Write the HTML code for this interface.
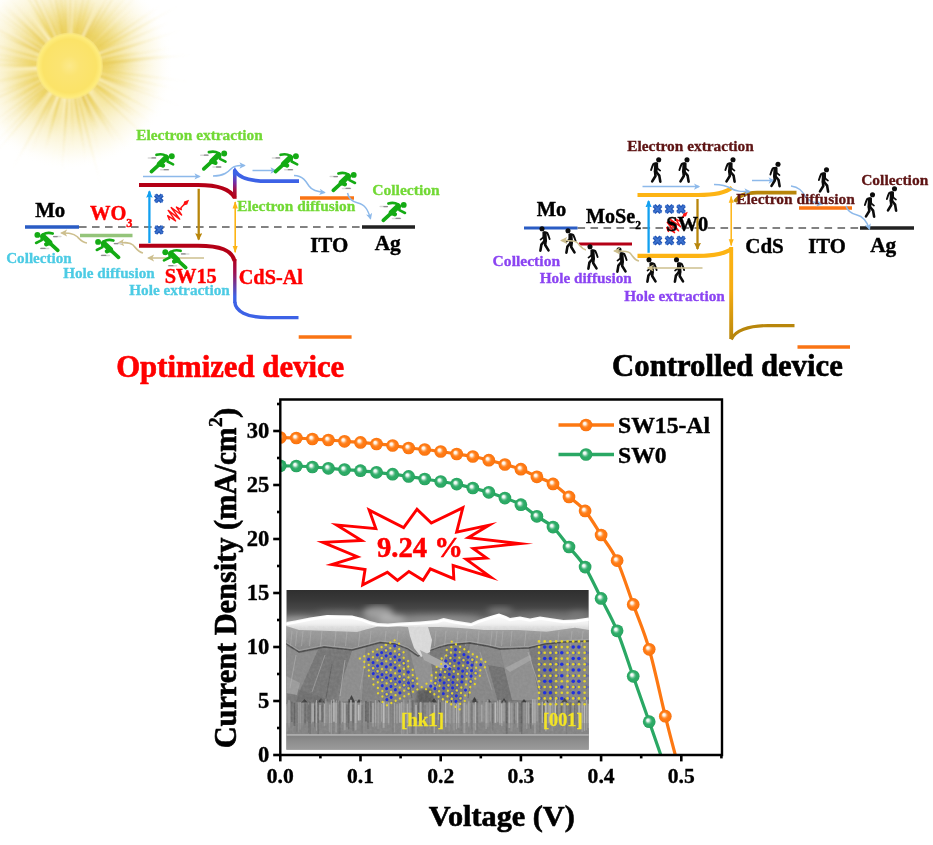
<!DOCTYPE html>
<html><head><meta charset="utf-8"><title>Graphical abstract</title>
<style>
html,body{margin:0;padding:0;background:#fff;}
svg{display:block}
text{font-family:"Liberation Serif",serif;font-weight:bold;white-space:pre}
</style></head><body>
<svg width="933" height="845" viewBox="0 0 933 845">
<defs>
<radialGradient id="sunDisc" cx="50%" cy="50%" r="50%">
 <stop offset="0" stop-color="#fce98a"/><stop offset="0.3" stop-color="#fbe472"/><stop offset="0.8" stop-color="#fbe368"/><stop offset="0.93" stop-color="#feec7c"/><stop offset="1" stop-color="#fbe98a" stop-opacity="0.5"/>
</radialGradient>
<radialGradient id="sunGlow" cx="50%" cy="50%" r="50%">
 <stop offset="0" stop-color="#f0d972" stop-opacity="1"/><stop offset="0.36" stop-color="#f0d972" stop-opacity="1"/><stop offset="0.5" stop-color="#f2de84" stop-opacity="0.78"/><stop offset="0.68" stop-color="#f6e7a2" stop-opacity="0.44"/><stop offset="0.86" stop-color="#f9eeb8" stop-opacity="0.16"/><stop offset="1" stop-color="#fff" stop-opacity="0"/>
</radialGradient>
<radialGradient id="rayFade" gradientUnits="userSpaceOnUse" cx="69.5" cy="66" r="128">
 <stop offset="0" stop-color="#fff" stop-opacity="1"/><stop offset="0.35" stop-color="#fff" stop-opacity="0.95"/><stop offset="0.65" stop-color="#fff" stop-opacity="0.5"/><stop offset="0.9" stop-color="#fff" stop-opacity="0.1"/><stop offset="1" stop-color="#fff" stop-opacity="0"/>
</radialGradient>
<mask id="rayMask" maskUnits="userSpaceOnUse" x="-60" y="-60" width="300" height="300"><rect x="-60" y="-60" width="300" height="300" fill="url(#rayFade)"/></mask>
<filter id="blur1" x="-20%" y="-20%" width="140%" height="140%"><feGaussianBlur stdDeviation="0.8"/></filter>
<filter id="blurS" x="-30%" y="-200%" width="160%" height="500%"><feGaussianBlur stdDeviation="0.35"/></filter>
<filter id="blur2" x="-20%" y="-20%" width="140%" height="140%"><feGaussianBlur stdDeviation="2"/></filter>
<linearGradient id="gRB_up" gradientUnits="userSpaceOnUse" x1="0" y1="198" x2="0" y2="174"><stop offset="0" stop-color="#b40016"/><stop offset="0.3" stop-color="#a8103c"/><stop offset="0.62" stop-color="#7a2aa0"/><stop offset="1" stop-color="#3d62e6"/></linearGradient>
<linearGradient id="gRB_dn" gradientUnits="userSpaceOnUse" x1="0" y1="258" x2="0" y2="306"><stop offset="0" stop-color="#b40016"/><stop offset="0.3" stop-color="#a01050"/><stop offset="0.8" stop-color="#3d62e6"/><stop offset="1" stop-color="#3d62e6"/></linearGradient>
<linearGradient id="gYG" gradientUnits="userSpaceOnUse" x1="0" y1="248" x2="0" y2="340"><stop offset="0" stop-color="#fdb414"/><stop offset="0.45" stop-color="#f5ac12"/><stop offset="1" stop-color="#b8860b"/></linearGradient>
<radialGradient id="ballO" cx="50%" cy="50%" r="50%" fx="37%" fy="36%"><stop offset="0" stop-color="#ffffff"/><stop offset="0.2" stop-color="#fff0e0"/><stop offset="0.42" stop-color="#ff9a48"/><stop offset="0.58" stop-color="#ff7c16"/><stop offset="0.9" stop-color="#fd7610"/><stop offset="1" stop-color="#f06c08"/></radialGradient>
<radialGradient id="ballG" cx="50%" cy="50%" r="50%" fx="37%" fy="36%"><stop offset="0" stop-color="#ffffff"/><stop offset="0.2" stop-color="#e6f6ee"/><stop offset="0.42" stop-color="#62c08e"/><stop offset="0.58" stop-color="#2eac68"/><stop offset="0.9" stop-color="#2aa863"/><stop offset="1" stop-color="#1f9a56"/></radialGradient>

<marker id="mLB" viewBox="0 0 10 10" refX="8" refY="5" markerWidth="4.2" markerHeight="4.2" orient="auto-start-reverse" markerUnits="strokeWidth"><path d="M0,0 L10,5 L0,10 L2.5,5 z" fill="#8db9ea"/></marker>
<marker id="mTan" viewBox="0 0 10 10" refX="8" refY="5" markerWidth="4.4" markerHeight="4.4" orient="auto-start-reverse" markerUnits="strokeWidth"><path d="M0,0 L10,5 L0,10 L2.5,5 z" fill="#cdbf8e"/></marker>
<marker id="mBlue" viewBox="0 0 10 10" refX="8.5" refY="5" markerWidth="3.2" markerHeight="3.2" orient="auto-start-reverse" markerUnits="strokeWidth"><path d="M0,0.6 L10,5 L0,9.4 L1.5,5 z" fill="#12a0f0"/></marker>
<marker id="mGold" viewBox="0 0 10 10" refX="8.5" refY="5" markerWidth="3.2" markerHeight="3.2" orient="auto-start-reverse" markerUnits="strokeWidth"><path d="M0,0.2 L10,5 L0,9.8 L1.5,5 z" fill="#b8860b"/></marker>
<marker id="mYel" viewBox="0 0 10 10" refX="9" refY="5" markerWidth="4.6" markerHeight="4.6" orient="auto-start-reverse" markerUnits="strokeWidth"><path d="M0,1.4 L10,5 L0,8.6 z" fill="#fdb414"/></marker>
<marker id="mRed" viewBox="0 0 10 10" refX="8" refY="5" markerWidth="5" markerHeight="5" orient="auto-start-reverse" markerUnits="strokeWidth"><path d="M0,0 L10,5 L0,10 L2.5,5 z" fill="#ff1010"/></marker>
<symbol id="runner" viewBox="0 0 25 21" overflow="visible">
<g stroke-linecap="round" fill="none" filter="url(#blurS)"><path d="M-1.3,5.6 h7 M11,17.4 h8" stroke="#d8d8d8" stroke-width="1.5"/><path d="M2.4,5.6 h3.6 M14.6,17.4 h4" stroke="#8c8c8c" stroke-width="1.3"/></g>
<g fill="none" stroke="#14ab14" stroke-linecap="round" stroke-linejoin="round">
<circle cx="22.2" cy="3.9" r="2.95" fill="#14ab14" stroke="none"/>
<path d="M16.7,5.2 L10,11.6" stroke-width="5.5"/>
<path d="M16.5,3.5 Q12.5,1 6.9,2.5" stroke-width="2.7"/>
<path d="M17.9,6 L17.9,9.2 L23.5,12" stroke-width="2.6"/>
<path d="M10.5,12 L13.4,13.2" stroke-width="4.4"/>
<path d="M8.9,12.8 L1.8,19.3" stroke-width="3.7"/>
</g></symbol>
<symbol id="walker" viewBox="0 0 11 26" overflow="visible">
<g fill="none" stroke="#0c0c0c" stroke-linecap="round" stroke-linejoin="round">
<circle cx="8.5" cy="2.7" r="2.55" fill="#0c0c0c" stroke="none"/>
<path d="M5.9,7.2 L5.4,14.4" stroke-width="3.8"/>
<path d="M4.2,6.6 L6.8,6.6" stroke-width="2.4"/>
<path d="M3.2,7 L1.9,10 L0.9,13" stroke-width="1.9"/>
<path d="M7,7.6 L7.3,11.5 L10,13.6" stroke-width="1.7"/>
<path d="M4.9,15 L5.3,19 L2,24.4" stroke-width="2.6"/>
<path d="M6.1,15 L9.1,18.6 L10.1,24.6" stroke-width="2.6"/>
</g></symbol>
<symbol id="xx" viewBox="-5 -5 10 10" overflow="visible"><path d="M-3.4,-3.4 L3.4,3.4 M-3.4,3.4 L3.4,-3.4" stroke="#2255b4" stroke-width="4.2" stroke-linecap="butt"/><path d="M-3.4,-3.4 L3.4,3.4 M-3.4,3.4 L3.4,-3.4" stroke="#3d73cf" stroke-width="1.6" stroke-linecap="round"/></symbol>
</defs>
<rect width="933" height="845" fill="#fff"/>
<g id="sun">
<circle cx="69.5" cy="66" r="104" fill="url(#sunGlow)"/>
<g mask="url(#rayMask)" filter="url(#blur1)">
<polygon points="95.5,65.3 95.5,66.4 155.0,65.4" fill="#e6c950" opacity="0.67"/>
<polygon points="95.5,66.2 95.4,67.7 152.0,69.0" fill="#e2c248" opacity="0.34"/>
<polygon points="95.5,67.2 95.4,68.3 146.1,71.1" fill="#e9cf5c" opacity="0.55"/>
<polygon points="95.4,68.3 95.1,70.4 191.1,82.0" fill="#e9cf5c" opacity="0.48"/>
<polygon points="95.3,69.2 95.1,70.5 152.1,78.4" fill="#ecd468" opacity="0.35"/>
<polygon points="95.1,70.4 94.7,72.5 180.4,89.9" fill="#ecd468" opacity="0.59"/>
<polygon points="94.9,71.5 94.6,72.6 176.9,91.7" fill="#fffae0" opacity="0.39"/>
<polygon points="94.7,72.2 93.9,74.9 159.8,93.4" fill="#e9cf5c" opacity="0.46"/>
<polygon points="94.1,74.3 93.7,75.4 190.6,109.8" fill="#e2c248" opacity="0.44"/>
<polygon points="93.9,74.9 93.1,76.9 180.7,112.0" fill="#fffae0" opacity="0.33"/>
<polygon points="93.7,75.6 92.9,77.4 150.0,101.5" fill="#fffae0" opacity="0.32"/>
<polygon points="93.5,75.9 92.4,78.4 172.3,114.9" fill="#fffae0" opacity="0.44"/>
<polygon points="92.8,77.6 91.9,79.2 161.2,115.7" fill="#ecd468" opacity="0.68"/>
<polygon points="92.3,78.4 91.1,80.5 164.0,123.1" fill="#fffae0" opacity="0.44"/>
<polygon points="91.4,80.1 90.4,81.5 150.0,121.8" fill="#e6c950" opacity="0.60"/>
<polygon points="90.6,81.2 89.9,82.1 140.1,119.2" fill="#ecd468" opacity="0.33"/>
<polygon points="90.9,80.7 89.2,82.9 137.3,118.1" fill="#e9cf5c" opacity="0.52"/>
<polygon points="89.6,82.5 88.8,83.4 150.5,135.7" fill="#fffae0" opacity="0.49"/>
<polygon points="89.4,82.8 87.8,84.5 152.6,142.7" fill="#e9cf5c" opacity="0.47"/>
<polygon points="88.7,83.5 87.1,85.1 127.0,123.1" fill="#fffae0" opacity="0.31"/>
<polygon points="87.8,84.5 86.5,85.7 127.2,128.5" fill="#fffae0" opacity="0.47"/>
<polygon points="87.0,85.3 85.4,86.5 128.0,135.6" fill="#fffae0" opacity="0.58"/>
<polygon points="86.0,86.1 84.0,87.6 135.9,155.2" fill="#fffae0" opacity="0.69"/>
<polygon points="85.2,86.7 83.6,87.8 127.1,148.1" fill="#e9cf5c" opacity="0.48"/>
<polygon points="84.3,87.4 83.3,88.0 117.0,138.1" fill="#e6c950" opacity="0.57"/>
<polygon points="84.1,87.5 81.7,88.9 115.1,141.4" fill="#e6c950" opacity="0.58"/>
<polygon points="82.2,88.7 80.2,89.7 118.6,163.5" fill="#fffae0" opacity="0.73"/>
<polygon points="81.6,89.0 79.8,89.9 99.6,129.0" fill="#e2c248" opacity="0.74"/>
<polygon points="80.7,89.5 78.5,90.4 96.8,130.8" fill="#e2c248" opacity="0.63"/>
<polygon points="78.9,90.2 77.6,90.7 99.0,148.6" fill="#ecd468" opacity="0.73"/>
<polygon points="79.0,90.2 76.7,91.0 108.8,181.4" fill="#fffae0" opacity="0.43"/>
<polygon points="77.1,90.9 75.2,91.4 102.7,192.1" fill="#ecd468" opacity="0.71"/>
<polygon points="76.1,91.1 74.2,91.6 94.1,176.4" fill="#fffae0" opacity="0.59"/>
<polygon points="75.3,91.3 72.8,91.8 85.8,157.6" fill="#e9cf5c" opacity="0.63"/>
<polygon points="74.1,91.6 73.1,91.8 85.2,164.2" fill="#ecd468" opacity="0.31"/>
<polygon points="73.6,91.7 70.8,92.0 79.1,156.4" fill="#fffae0" opacity="0.50"/>
<polygon points="71.2,91.9 70.0,92.0 73.2,152.5" fill="#ecd468" opacity="0.51"/>
<polygon points="71.4,91.9 69.3,92.0 73.5,189.5" fill="#fffae0" opacity="0.30"/>
<polygon points="70.2,92.0 68.0,92.0 67.9,177.0" fill="#fffae0" opacity="0.71"/>
<polygon points="68.5,92.0 66.7,91.8 61.4,176.7" fill="#e6c950" opacity="0.59"/>
<polygon points="67.4,91.9 65.6,91.7 55.6,184.1" fill="#fffae0" opacity="0.73"/>
<polygon points="67.1,91.9 65.0,91.6 59.1,144.0" fill="#fffae0" opacity="0.51"/>
<polygon points="66.1,91.8 63.9,91.4 48.1,187.6" fill="#fffae0" opacity="0.46"/>
<polygon points="64.9,91.6 62.1,90.9 53.8,132.4" fill="#fffae0" opacity="0.59"/>
<polygon points="63.5,91.3 61.0,90.6 45.5,148.8" fill="#e9cf5c" opacity="0.67"/>
<polygon points="62.6,91.1 61.2,90.7 45.2,146.0" fill="#ecd468" opacity="0.56"/>
<polygon points="61.5,90.7 59.3,89.9 41.7,140.3" fill="#fffae0" opacity="0.70"/>
<polygon points="60.6,90.4 58.1,89.4 26.4,167.5" fill="#fffae0" opacity="0.53"/>
<polygon points="59.6,90.0 57.9,89.3 27.9,157.7" fill="#e6c950" opacity="0.38"/>
<polygon points="58.0,89.3 56.4,88.4 31.0,137.7" fill="#fffae0" opacity="0.63"/>
<polygon points="57.8,89.2 56.0,88.2 10.3,172.8" fill="#e6c950" opacity="0.65"/>
<polygon points="55.9,88.1 54.6,87.3 30.0,126.2" fill="#fffae0" opacity="0.65"/>
<polygon points="55.9,88.1 53.6,86.6 23.9,131.9" fill="#fffae0" opacity="0.50"/>
<polygon points="54.3,87.1 52.5,85.7 -0.1,154.2" fill="#fffae0" opacity="0.50"/>
<polygon points="53.6,86.6 51.8,85.1 -9.8,159.4" fill="#ecd468" opacity="0.69"/>
<polygon points="52.2,85.4 51.3,84.6 5.7,134.5" fill="#e2c248" opacity="0.35"/>
<polygon points="51.9,85.1 51.0,84.3 -10.3,148.7" fill="#e6c950" opacity="0.60"/>
<polygon points="51.0,84.3 49.5,82.7 -1.1,130.3" fill="#ecd468" opacity="0.46"/>
<polygon points="50.5,83.7 48.7,81.6 -4.5,128.0" fill="#e2c248" opacity="0.48"/>
<polygon points="49.8,82.9 48.9,81.9 -31.4,148.2" fill="#fffae0" opacity="0.49"/>
<polygon points="49.0,82.0 48.1,80.7 -8.0,122.7" fill="#e6c950" opacity="0.62"/>
<polygon points="48.2,81.0 47.7,80.1 -14.5,122.6" fill="#fffae0" opacity="0.45"/>
<polygon points="48.1,80.8 46.7,78.5 10.1,102.6" fill="#e6c950" opacity="0.40"/>
<polygon points="47.6,80.0 46.3,77.8 -5.0,108.6" fill="#e9cf5c" opacity="0.42"/>
<polygon points="46.4,77.9 45.8,76.6 -47.5,122.2" fill="#fffae0" opacity="0.37"/>
<polygon points="46.0,77.2 45.4,75.8 -37.7,113.4" fill="#e9cf5c" opacity="0.66"/>
<polygon points="45.6,76.1 45.2,75.2 2.4,92.8" fill="#ecd468" opacity="0.34"/>
<polygon points="45.6,76.2 44.7,73.7 -5.1,93.4" fill="#ecd468" opacity="0.50"/>
<polygon points="44.7,73.7 44.3,72.3 -38.2,96.2" fill="#fffae0" opacity="0.36"/>
<polygon points="44.5,73.0 44.1,71.5 -11.6,86.1" fill="#ecd468" opacity="0.38"/>
<polygon points="44.2,72.0 43.9,70.5 -46.3,90.0" fill="#e9cf5c" opacity="0.53"/>
<polygon points="44.0,71.1 43.8,70.0 -13.1,80.8" fill="#fffae0" opacity="0.31"/>
<polygon points="43.8,69.9 43.6,68.5 -17.5,76.8" fill="#fffae0" opacity="0.50"/>
<polygon points="43.7,68.9 43.5,66.8 -36.2,73.5" fill="#fffae0" opacity="0.70"/>
<polygon points="43.6,68.1 43.5,66.5 -26.7,70.8" fill="#fffae0" opacity="0.67"/>
<polygon points="43.5,66.6 43.5,64.9 -16.1,65.2" fill="#e9cf5c" opacity="0.32"/>
<polygon points="43.5,66.2 43.5,64.7 -58.2,63.1" fill="#e6c950" opacity="0.37"/>
<polygon points="43.5,64.8 43.7,62.5 -40.7,56.0" fill="#e9cf5c" opacity="0.43"/>
<polygon points="43.7,63.2 43.8,61.9 -5.2,56.0" fill="#ecd468" opacity="0.50"/>
<polygon points="43.7,62.8 44.0,60.8 -33.6,49.1" fill="#ecd468" opacity="0.41"/>
<polygon points="43.9,61.7 44.2,60.0 -7.2,50.6" fill="#fffae0" opacity="0.51"/>
<polygon points="44.2,59.9 44.5,58.9 -15.1,43.7" fill="#e6c950" opacity="0.42"/>
<polygon points="44.4,59.3 44.7,58.3 -27.9,38.1" fill="#e9cf5c" opacity="0.44"/>
<polygon points="44.6,58.5 45.0,57.2 -44.9,28.3" fill="#fffae0" opacity="0.70"/>
<polygon points="44.9,57.4 45.7,55.6 -23.1,29.8" fill="#fffae0" opacity="0.43"/>
<polygon points="45.3,56.4 46.3,54.2 -4.5,32.5" fill="#e2c248" opacity="0.53"/>
<polygon points="45.9,55.1 46.8,53.3 -22.8,19.1" fill="#e6c950" opacity="0.53"/>
<polygon points="46.3,54.2 47.5,52.2 -34.1,7.2" fill="#fffae0" opacity="0.73"/>
<polygon points="46.6,53.7 47.7,51.8 10.4,31.1" fill="#e2c248" opacity="0.73"/>
<polygon points="47.8,51.8 48.3,50.9 -14.3,8.7" fill="#e9cf5c" opacity="0.54"/>
<polygon points="48.1,51.2 48.8,50.3 8.6,21.8" fill="#fffae0" opacity="0.72"/>
<polygon points="48.2,51.2 49.6,49.2 -11.3,4.0" fill="#e6c950" opacity="0.41"/>
<polygon points="49.6,49.3 50.5,48.2 1.0,5.2" fill="#e2c248" opacity="0.63"/>
<polygon points="49.6,49.2 51.5,47.2 1.4,2.0" fill="#e6c950" opacity="0.43"/>
<polygon points="50.6,48.1 52.2,46.6 -9.8,-15.7" fill="#fffae0" opacity="0.45"/>
<polygon points="51.8,46.9 52.8,46.1 5.0,-7.0" fill="#e2c248" opacity="0.52"/>
<polygon points="52.2,46.6 53.3,45.7 -2.3,-19.1" fill="#fffae0" opacity="0.52"/>
<polygon points="52.8,46.0 54.8,44.6 8.0,-15.2" fill="#fffae0" opacity="0.75"/>
<polygon points="54.0,45.1 54.8,44.5 21.3,-1.6" fill="#fffae0" opacity="0.51"/>
<polygon points="55.2,44.3 56.7,43.4 10.6,-30.8" fill="#e9cf5c" opacity="0.71"/>
<polygon points="55.3,44.2 57.0,43.2 33.3,5.8" fill="#e9cf5c" opacity="0.73"/>
<polygon points="56.4,43.6 58.8,42.3 13.5,-42.2" fill="#e9cf5c" opacity="0.62"/>
<polygon points="57.8,42.8 59.0,42.2 26.8,-24.8" fill="#fffae0" opacity="0.73"/>
<polygon points="58.6,42.4 60.2,41.7 30.7,-25.7" fill="#e6c950" opacity="0.47"/>
<polygon points="60.0,41.8 61.5,41.2 44.9,-2.9" fill="#e9cf5c" opacity="0.48"/>
<polygon points="60.9,41.5 62.5,41.0 34.5,-44.8" fill="#fffae0" opacity="0.48"/>
<polygon points="60.8,41.5 63.4,40.7 38.7,-37.6" fill="#e6c950" opacity="0.43"/>
<polygon points="63.3,40.8 64.5,40.5 48.5,-29.4" fill="#e2c248" opacity="0.74"/>
<polygon points="63.4,40.7 65.9,40.3 52.2,-24.8" fill="#e6c950" opacity="0.49"/>
<polygon points="64.7,40.4 67.4,40.1 53.6,-52.0" fill="#e9cf5c" opacity="0.55"/>
<polygon points="66.1,40.2 67.9,40.0 61.6,-16.6" fill="#e9cf5c" opacity="0.58"/>
<polygon points="66.7,40.2 69.4,40.0 64.1,-28.6" fill="#e9cf5c" opacity="0.55"/>
<polygon points="68.2,40.0 69.7,40.0 67.5,-24.6" fill="#fffae0" opacity="0.63"/>
<polygon points="68.8,40.0 70.8,40.0 70.8,-48.9" fill="#e6c950" opacity="0.60"/>
<polygon points="69.8,40.0 71.8,40.1 73.4,-13.5" fill="#fffae0" opacity="0.67"/>
<polygon points="71.0,40.0 72.9,40.2 79.3,-38.5" fill="#e9cf5c" opacity="0.36"/>
<polygon points="72.5,40.2 73.6,40.3 81.0,-17.7" fill="#ecd468" opacity="0.41"/>
<polygon points="73.5,40.3 75.9,40.8 88.4,-26.6" fill="#e2c248" opacity="0.49"/>
<polygon points="74.9,40.6 76.5,41.0 89.8,-16.7" fill="#ecd468" opacity="0.33"/>
<polygon points="75.6,40.7 77.5,41.3 93.3,-18.2" fill="#e9cf5c" opacity="0.58"/>
<polygon points="76.1,40.8 78.2,41.5 94.5,-15.5" fill="#ecd468" opacity="0.49"/>
<polygon points="78.1,41.4 79.7,42.1 94.8,0.7" fill="#e2c248" opacity="0.64"/>
<polygon points="79.2,41.9 80.8,42.6 106.7,-17.9" fill="#fffae0" opacity="0.72"/>
<polygon points="80.4,42.4 81.4,42.9 112.1,-21.3" fill="#fffae0" opacity="0.37"/>
<polygon points="80.9,42.6 83.0,43.8 109.4,-6.9" fill="#e2c248" opacity="0.59"/>
<polygon points="81.6,43.0 82.7,43.6 102.5,6.5" fill="#e6c950" opacity="0.56"/>
<polygon points="82.6,43.6 84.5,44.7 125.9,-21.7" fill="#e2c248" opacity="0.54"/>
<polygon points="83.9,44.3 85.1,45.2 109.7,9.2" fill="#e9cf5c" opacity="0.72"/>
<polygon points="84.7,44.9 85.5,45.5 125.2,-8.1" fill="#e2c248" opacity="0.54"/>
<polygon points="84.8,45.0 86.9,46.7 131.2,-10.0" fill="#e9cf5c" opacity="0.51"/>
<polygon points="86.0,45.9 87.8,47.5 125.4,4.1" fill="#e6c950" opacity="0.44"/>
<polygon points="87.0,46.8 87.9,47.6 156.1,-24.6" fill="#e2c248" opacity="0.40"/>
<polygon points="88.0,47.7 89.5,49.4 134.1,7.3" fill="#ecd468" opacity="0.62"/>
<polygon points="88.8,48.6 89.8,49.8 129.2,15.3" fill="#e6c950" opacity="0.68"/>
<polygon points="88.9,48.6 90.5,50.6 134.7,13.1" fill="#e9cf5c" opacity="0.40"/>
<polygon points="89.7,49.7 91.0,51.4 139.5,14.1" fill="#e9cf5c" opacity="0.57"/>
<polygon points="90.5,50.7 91.7,52.5 161.3,4.9" fill="#e6c950" opacity="0.71"/>
<polygon points="91.3,51.8 91.9,52.7 157.5,11.3" fill="#e2c248" opacity="0.33"/>
<polygon points="91.7,52.4 92.8,54.5 184.5,2.5" fill="#e9cf5c" opacity="0.75"/>
<polygon points="92.2,53.4 93.1,55.2 150.0,25.3" fill="#ecd468" opacity="0.51"/>
<polygon points="92.7,54.3 93.9,56.9 170.2,22.0" fill="#e6c950" opacity="0.50"/>
<polygon points="93.1,55.1 93.8,56.8 149.4,32.5" fill="#fffae0" opacity="0.70"/>
<polygon points="93.8,56.7 94.6,59.1 150.5,39.5" fill="#e2c248" opacity="0.44"/>
<polygon points="94.0,57.3 94.5,58.9 184.7,29.1" fill="#e9cf5c" opacity="0.71"/>
<polygon points="94.5,58.8 94.8,59.9 196.9,32.3" fill="#fffae0" opacity="0.48"/>
<polygon points="94.8,59.9 95.2,61.8 142.1,51.4" fill="#e6c950" opacity="0.66"/>
<polygon points="94.9,60.4 95.3,62.5 178.2,46.5" fill="#ecd468" opacity="0.46"/>
<polygon points="95.2,62.0 95.5,64.4 170.2,55.1" fill="#ecd468" opacity="0.61"/>
<polygon points="95.2,62.2 95.5,65.0 197.1,54.2" fill="#e6c950" opacity="0.59"/>
<polygon points="95.4,63.2 95.5,65.6 149.5,61.1" fill="#e2c248" opacity="0.51"/>
</g>
<circle cx="69.5" cy="66" r="33.5" fill="url(#sunDisc)"/>
</g>
<g id="optimized">
<path d="M79,227 H362" stroke="#595959" stroke-width="1.6" stroke-dasharray="7.6 5.4" fill="none"/>
<path d="M25,227 H79" stroke="#2a5cc4" stroke-width="3.4"/>
<path d="M80,235.5 H132.5" stroke="#94c47a" stroke-width="3.4"/>
<path d="M362,227 H415" stroke="#222" stroke-width="3.6"/>
<path d="M300,198 H354" stroke="#fa7414" stroke-width="3.6"/>
<path d="M298.7,337 H351.6" stroke="#fa7414" stroke-width="3.6"/>
<path d="M139,185 H198 C218,185 230,189 234.6,197.6" stroke="#b40016" stroke-width="4.2" fill="none" stroke-linecap="butt"/>
<path d="M234.8,198.8 V173.5" stroke="url(#gRB_up)" stroke-width="3.6" fill="none"/>
<path d="M234.8,174.5 V170.6 C238.5,177 250,181.2 268,181.2 H299" stroke="#3d62e6" stroke-width="3.8" fill="none" stroke-linejoin="round"/>
<path d="M233.2,171 L234.9,166.8 L236.8,171 z" fill="#3d62e6"/>
<path d="M139,245.8 H198 C220,245.8 232,250 234.6,261" stroke="#b40016" stroke-width="3.9" fill="none"/>
<path d="M234.8,259 V303" stroke="url(#gRB_dn)" stroke-width="3.4" fill="none"/>
<path d="M234.8,302 C235.5,311 246,317.6 268,317.6 H298.5" stroke="#3d62e6" stroke-width="3.4" fill="none"/>
<path d="M149.4,243 V191.4" stroke="#12a0f0" stroke-width="2.3" marker-end="url(#mBlue)"/>
<path d="M198.7,188.8 V239.5" stroke="#b8860b" stroke-width="2.3" marker-end="url(#mGold)"/>
<path d="M235.2,202 V252.2" stroke="#fdb414" stroke-width="1.6" marker-end="url(#mYel)" marker-start="url(#mYel)"/>
<use href="#xx" x="153.8" y="193.4" width="10" height="10"/>
<use href="#xx" x="154" y="224.8" width="10" height="10"/>
<g transform="translate(169.3,219.2) rotate(-44.6)"><path d="M-0.5,1 L1.3,-3.6 L3.3,5.6 L5.4,-7 L7.5,7.2 L9.6,-7 L11.7,5.6 L13.6,-3.6 L15.2,1.6 L16.4,0 L21.5,0" fill="none" stroke="#ff1010" stroke-width="1.45" stroke-linejoin="round"/><path d="M19.6,0 L23,-2.2 L27.8,0 L23,2.2 z" fill="#ff1010"/></g>
<path d="M143,176.4 H199.5" stroke="#8db9ea" stroke-width="1.5" fill="none" marker-end="url(#mLB)"/>
<path d="M213,176 C224,176 228,172 232,168 C236,164.5 240,165.5 244.5,165.5" stroke="#8db9ea" stroke-width="1.5" fill="none" marker-end="url(#mLB)"/>
<path d="M252.5,170.5 H275.5" stroke="#8db9ea" stroke-width="1.5" fill="none" marker-end="url(#mLB)"/>
<path d="M294,175.5 C303,176 306,181 309,186 C312,190.5 317,191.5 324.5,192.5" stroke="#8db9ea" stroke-width="1.5" fill="none" marker-end="url(#mLB)"/>
<path d="M347.5,193 C349,200 353,202 358,203 C365,204.5 368,210 370.5,218.5" stroke="#8db9ea" stroke-width="1.5" fill="none" marker-end="url(#mLB)"/>
<path d="M204,258 H148.5" stroke="#cdbf8e" stroke-width="1.6" fill="none" marker-end="url(#mTan)"/>
<path d="M143,253 C138,252 136,248 133,245 C129.5,242 125,242.5 118.5,243" stroke="#cdbf8e" stroke-width="1.6" fill="none" marker-end="url(#mTan)"/>
<path d="M87,243 C82,242.5 80,239.5 77,236.5 C73,233 68,233 61.5,233" stroke="#cdbf8e" stroke-width="1.6" fill="none" marker-end="url(#mTan)"/>
<use href="#runner" x="149.6" y="152.3" width="25" height="21"/>
<use href="#runner" x="202" y="149.6" width="25" height="21"/>
<use href="#runner" x="273.7" y="152.3" width="25" height="21"/>
<use href="#runner" x="331.5" y="171" width="25" height="21"/>
<use href="#runner" x="381.5" y="201" width="25" height="21"/>
<g transform="translate(59.6,231) scale(-1,1)"><use href="#runner" x="0" y="0" width="25" height="21"/></g>
<g transform="translate(120.3,238) scale(-1,1)"><use href="#runner" x="0" y="0" width="25" height="21"/></g>
<g transform="translate(187.5,248.3) scale(-1,1)"><use href="#runner" x="0" y="0" width="25" height="21"/></g>
<text x="136.2" y="140" font-size="15" fill="#72d935" stroke="#72d935" stroke-width="0.3" textLength="126.6" lengthAdjust="spacingAndGlyphs" >Electron extraction</text>
<text x="237.2" y="211" font-size="15" fill="#72d935" stroke="#72d935" stroke-width="0.3" textLength="118.1" lengthAdjust="spacingAndGlyphs" >Electron diffusion</text>
<text x="372.2" y="195" font-size="15" fill="#72d935" stroke="#72d935" stroke-width="0.3" textLength="67.6" lengthAdjust="spacingAndGlyphs" >Collection</text>
<text x="6.2" y="262.5" font-size="15" fill="#4ccbe4" stroke="#4ccbe4" stroke-width="0.3" textLength="65.6" lengthAdjust="spacingAndGlyphs" >Collection</text>
<text x="63.2" y="278" font-size="15" fill="#4ccbe4" stroke="#4ccbe4" stroke-width="0.3" textLength="91.6" lengthAdjust="spacingAndGlyphs" >Hole diffusion</text>
<text x="129.2" y="294.5" font-size="15" fill="#4ccbe4" stroke="#4ccbe4" stroke-width="0.3" textLength="100.6" lengthAdjust="spacingAndGlyphs" >Hole extraction</text>
<text x="35.2" y="217" font-size="20" fill="#000" stroke="#000" stroke-width="0.4" textLength="30.1" lengthAdjust="spacingAndGlyphs" >Mo</text>
<text x="90" y="219.5" font-size="20" fill="#ff0000" stroke="#ff0000" stroke-width="0.4" textLength="42.5" lengthAdjust="spacingAndGlyphs">WO<tspan font-size="12" dy="7.2">3</tspan></text>
<text x="164.7" y="283" font-size="20" fill="#ff0000" stroke="#ff0000" stroke-width="0.4" textLength="52.1" lengthAdjust="spacingAndGlyphs" >SW15</text>
<text x="238.7" y="284" font-size="20" fill="#ff0000" stroke="#ff0000" stroke-width="0.4" textLength="64.3" lengthAdjust="spacingAndGlyphs" >CdS-Al</text>
<text x="310.2" y="252" font-size="20" fill="#000" stroke="#000" stroke-width="0.4" textLength="38.1" lengthAdjust="spacingAndGlyphs" >ITO</text>
<text x="374.7" y="250" font-size="20" fill="#000" stroke="#000" stroke-width="0.4" textLength="26.1" lengthAdjust="spacingAndGlyphs" >Ag</text>
<text x="116.2" y="377.3" font-size="30.5" fill="#ff0000" stroke="#ff0000" stroke-width="0.6" textLength="228.1" lengthAdjust="spacingAndGlyphs" >Optimized device</text>
</g>
<g id="controlled">
<path d="M577.5,228 H860" stroke="#595959" stroke-width="1.5" stroke-dasharray="7.6 5.4" fill="none"/>
<path d="M524,228 H577.5" stroke="#2a5cc4" stroke-width="3.2"/>
<path d="M579,244 H632" stroke="#b40016" stroke-width="3.2"/>
<path d="M860,228 H914" stroke="#222" stroke-width="3.4"/>
<path d="M799,208 H852" stroke="#fa7414" stroke-width="3.6"/>
<path d="M797.5,347 H850" stroke="#fa7414" stroke-width="3.6"/>
<path d="M637.5,195 H698 C714,195 726,192.4 732,187.6" stroke="#fdb414" stroke-width="4.1" fill="none" stroke-linecap="butt"/>
<path d="M637.5,255.9 H698 C714,255.9 726,253.4 732,248.4" stroke="#fdb414" stroke-width="4.1" fill="none"/>
<path d="M731.2,247 V339" stroke="url(#gYG)" stroke-width="3.9" fill="none"/>
<path d="M731.2,339.5 C735,331 748,325.6 768,325.6 H794.5" stroke="#b8860b" stroke-width="3.2" fill="none" stroke-linejoin="miter"/>
<path d="M735,202 C738,196 745,192.6 757,192.6 H796.5" stroke="#b8860b" stroke-width="3.9" fill="none"/>
<path d="M648.6,252.8 V201.2" stroke="#12a0f0" stroke-width="2.3" marker-end="url(#mBlue)"/>
<path d="M697.5,199 V249" stroke="#b8860b" stroke-width="2.3" marker-end="url(#mGold)"/>
<path d="M731.2,196.6 V245.4" stroke="#fdb414" stroke-width="1.5" marker-end="url(#mYel)" marker-start="url(#mYel)"/>
<use href="#xx" x="652.5" y="204" width="10" height="10"/>
<use href="#xx" x="664.5" y="204" width="10" height="10"/>
<use href="#xx" x="676" y="204" width="10" height="10"/>
<use href="#xx" x="652.5" y="235.5" width="10" height="10"/>
<use href="#xx" x="664.5" y="235.5" width="10" height="10"/>
<use href="#xx" x="676" y="235.5" width="10" height="10"/>
<g transform="translate(668.3,231) rotate(-44.6)"><path d="M-0.5,1 L1.3,-3.6 L3.3,5.6 L5.4,-7 L7.5,7.2 L9.6,-7 L11.7,5.6 L13.6,-3.6 L15.2,1.6 L16.4,0 L21.5,0" fill="none" stroke="#ff1010" stroke-width="1.4" stroke-linejoin="round"/><path d="M19.8,0 L23,-1.9 L27.4,0 L23,1.9 z" fill="#ff1414"/></g>
<path d="M642.5,186.6 H699" stroke="#8db9ea" stroke-width="1.5" fill="none" marker-end="url(#mLB)"/>
<path d="M714,184.5 C722,184.5 727,186 731,188.5 C736,191.5 741,191.5 749.5,191.5" stroke="#8db9ea" stroke-width="1.5" fill="none" marker-end="url(#mLB)"/>
<path d="M752,180.5 H773.5" stroke="#8db9ea" stroke-width="1.5" fill="none" marker-end="url(#mLB)"/>
<path d="M791,186 C799,187 802,191 805,196 C808,201 813,203 821.5,204" stroke="#8db9ea" stroke-width="1.5" fill="none" marker-end="url(#mLB)"/>
<path d="M846,206 C848,212 852,214 857,215 C864,216.5 867,222 869.5,229" stroke="#8db9ea" stroke-width="1.5" fill="none" marker-end="url(#mLB)"/>
<use href="#walker" x="650.2" y="157" width="11" height="26"/>
<use href="#walker" x="678.5" y="157" width="11" height="26"/>
<use href="#walker" x="724.5" y="157" width="11" height="26"/>
<use href="#walker" x="769.5" y="161.5" width="11" height="26"/>
<use href="#walker" x="818" y="167" width="11" height="26"/>
<use href="#walker" x="864" y="192" width="11" height="26"/>
<use href="#walker" x="886" y="186" width="11" height="26"/>
<g transform="translate(550.5,226) scale(-1,1)"><use href="#walker" x="0" y="0" width="11" height="26"/></g>
<g transform="translate(576.5,228) scale(-1,1)"><use href="#walker" x="0" y="0" width="11" height="26"/></g>
<g transform="translate(598.5,244) scale(-1,1)"><use href="#walker" x="0" y="0" width="11" height="26"/></g>
<g transform="translate(627.5,247) scale(-1,1)"><use href="#walker" x="0" y="0" width="11" height="26"/></g>
<g transform="translate(657.5,257) scale(-1,1)"><use href="#walker" x="0" y="0" width="11" height="26"/></g>
<g transform="translate(685,257) scale(-1,1)"><use href="#walker" x="0" y="0" width="11" height="26"/></g>
<path d="M702.5,268 H648" stroke="#cdbf8e" stroke-width="1.6" fill="none" marker-end="url(#mTan)"/>
<path d="M639,261 C634,260 633,256 630,253 C627,250.5 622,251 614.5,251" stroke="#cdbf8e" stroke-width="1.6" fill="none" marker-end="url(#mTan)"/>
<path d="M586,250 C581,249 580,245 577,242.5 C574,240 569,240.5 561.5,240.5" stroke="#cdbf8e" stroke-width="1.6" fill="none" marker-end="url(#mTan)"/>
<text x="536.7" y="216" font-size="20" fill="#000" stroke="#000" stroke-width="0.4" textLength="29.6" lengthAdjust="spacingAndGlyphs" >Mo</text>
<text x="586" y="223" font-size="20" fill="#000" stroke="#000" stroke-width="0.4" textLength="55" lengthAdjust="spacingAndGlyphs">MoSe<tspan font-size="11.5" dy="5.8">2</tspan></text>
<text x="666.2" y="231" font-size="20" fill="#000" stroke="#000" stroke-width="0.4" textLength="42.1" lengthAdjust="spacingAndGlyphs" >SW0</text>
<text x="745.2" y="253" font-size="20" fill="#000" stroke="#000" stroke-width="0.4" textLength="38.6" lengthAdjust="spacingAndGlyphs" >CdS</text>
<text x="808.2" y="253" font-size="20" fill="#000" stroke="#000" stroke-width="0.4" textLength="37.6" lengthAdjust="spacingAndGlyphs" >ITO</text>
<text x="870.2" y="252" font-size="20" fill="#000" stroke="#000" stroke-width="0.4" textLength="26.1" lengthAdjust="spacingAndGlyphs" >Ag</text>
<text x="627.2" y="150.5" font-size="15" fill="#5e1414" stroke="#5e1414" stroke-width="0.3" textLength="126.6" lengthAdjust="spacingAndGlyphs" >Electron extraction</text>
<text x="736.2" y="204" font-size="15" fill="#5e1414" stroke="#5e1414" stroke-width="0.3" textLength="118.6" lengthAdjust="spacingAndGlyphs" >Electron diffusion</text>
<text x="861.2" y="185" font-size="15" fill="#5e1414" stroke="#5e1414" stroke-width="0.3" textLength="67.1" lengthAdjust="spacingAndGlyphs" >Collection</text>
<text x="492.59999999999997" y="265.5" font-size="15.2" fill="#8b44f2" stroke="#8b44f2" stroke-width="0.3" textLength="67.5" lengthAdjust="spacingAndGlyphs" >Collection</text>
<text x="539.7" y="283" font-size="15" fill="#8b44f2" stroke="#8b44f2" stroke-width="0.3" textLength="92.1" lengthAdjust="spacingAndGlyphs" >Hole diffusion</text>
<text x="624.2" y="300.5" font-size="15" fill="#8b44f2" stroke="#8b44f2" stroke-width="0.3" textLength="100.6" lengthAdjust="spacingAndGlyphs" >Hole extraction</text>
<text x="612.1" y="376" font-size="30.5" fill="#000" stroke="#000" stroke-width="0.6" textLength="230.7" lengthAdjust="spacingAndGlyphs" >Controlled device</text>
</g><g id="chart">
<defs>
<clipPath id="semClip"><rect x="286.3" y="590" width="302.49999999999994" height="159.79999999999995"/></clipPath>
<linearGradient id="semBg" x1="0" y1="0" x2="0" y2="1"><stop offset="0" stop-color="#2f2f2f"/><stop offset="0.06" stop-color="#383838"/><stop offset="0.115" stop-color="#474747"/><stop offset="0.155" stop-color="#5e5e5e"/><stop offset="0.19" stop-color="#808080"/><stop offset="0.22" stop-color="#949494"/></linearGradient>
<linearGradient id="semTopLayer" x1="0" y1="0" x2="0" y2="1"><stop offset="0" stop-color="#a2a2a2"/><stop offset="1" stop-color="#7e7e7e"/></linearGradient>
<linearGradient id="semSub" x1="0" y1="0" x2="0" y2="1"><stop offset="0" stop-color="#808080"/><stop offset="0.4" stop-color="#8e8e8e"/><stop offset="1" stop-color="#9c9c9c"/></linearGradient>
<filter id="semNoise" x="0" y="0" width="100%" height="100%"><feTurbulence type="fractalNoise" baseFrequency="0.35" numOctaves="2" seed="3" result="n"/><feColorMatrix in="n" type="matrix" values="0 0 0 0 0.5  0 0 0 0 0.5  0 0 0 0 0.5  0.9 0 0 0 -0.25"/></filter>
<filter id="b05"><feGaussianBlur stdDeviation="0.6"/></filter>
<filter id="b15"><feGaussianBlur stdDeviation="1.5"/></filter>
<filter id="b3"><feGaussianBlur stdDeviation="3"/></filter>
</defs>
<g clip-path="url(#semClip)">
<rect x="286.3" y="590" width="302.49999999999994" height="159.79999999999995" fill="url(#semBg)"/>
<g filter="url(#b3)">
<ellipse cx="378" cy="613" rx="15" ry="7" fill="#b0b0b0" opacity="0.8"/>
<ellipse cx="392" cy="619" rx="14" ry="4" fill="#c0c0c0" opacity="0.8"/>
<ellipse cx="300" cy="620" rx="20" ry="3" fill="#b0b0b0" opacity="0.7"/>
<ellipse cx="340" cy="613.5" rx="24" ry="2.5" fill="#9a9a9a" opacity="0.55"/>
<ellipse cx="440" cy="618" rx="40" ry="3" fill="#a8a8a8" opacity="0.6"/>
<ellipse cx="500" cy="611" rx="13" ry="3.5" fill="#a0a0a0" opacity="0.6"/>
<ellipse cx="545" cy="615" rx="35" ry="2.5" fill="#9c9c9c" opacity="0.5"/>
<ellipse cx="580" cy="614" rx="12" ry="3" fill="#a4a4a4" opacity="0.5"/>
</g>
<polygon points="286,640 589,640 589,706 286,706" fill="#787878"/>
<g filter="url(#b05)">
<polygon points="286,646 300,653 318,650 300,690 286,682" fill="#8a8a8a"/>
<polygon points="286,676 300,683 297,695 286,693" fill="#9c9c9c"/>
<polygon points="318,650 352,651 344,675 330,700 300,692" fill="#747474"/>
<polygon points="352,651 366,647 362,700 338,702 344,675" fill="#8c8c8c"/>
<polygon points="300,690 330,700 318,704 296,702" fill="#6e6e6e"/>
<polygon points="366,647 381,643 396,645 410,652 422,700 362,702" fill="#808080"/>
<polygon points="410,652 418,657 430,652 436,700 422,700" fill="#909090"/>
<polygon points="430,652 449,645 470,644 462,702 436,702" fill="#767676"/>
<polygon points="470,644 488,647 500,650 512,700 462,702" fill="#868686"/>
<polygon points="488,665 505,668 520,700 498,702" fill="#6f6f6f"/>
<polygon points="500,650 529,648 540,700 512,700" fill="#8e8e8e"/>
<polygon points="505,668 530,655 533,659 510,672" fill="#a2a2a2"/>
<polygon points="529,648 546,644 560,643 556,702 540,700" fill="#787878"/>
<polygon points="560,643 589,642 589,702 556,702" fill="#848484"/>
</g>
<g stroke-width="0.9" filter="url(#b05)">
<line x1="296" y1="655" x2="290" y2="688" stroke="#b0b0b0" opacity="0.75"/>
<line x1="325" y1="655" x2="312" y2="692" stroke="#a8a8a8" opacity="0.75"/>
<line x1="345" y1="660" x2="340" y2="696" stroke="#b4b4b4" opacity="0.75"/>
<line x1="366" y1="655" x2="360" y2="690" stroke="#a4a4a4" opacity="0.75"/>
<line x1="445" y1="655" x2="436" y2="690" stroke="#acacac" opacity="0.75"/>
<line x1="480" y1="652" x2="492" y2="690" stroke="#a6a6a6" opacity="0.75"/>
<line x1="528" y1="652" x2="540" y2="690" stroke="#b0b0b0" opacity="0.75"/>
<line x1="570" y1="648" x2="566" y2="690" stroke="#a0a0a0" opacity="0.75"/>
<line x1="332" y1="664" x2="326" y2="698" stroke="#585858" opacity="0.75"/>
<line x1="404" y1="660" x2="412" y2="698" stroke="#5c5c5c" opacity="0.75"/>
<line x1="474" y1="660" x2="468" y2="698" stroke="#5a5a5a" opacity="0.75"/>
<line x1="550" y1="655" x2="552" y2="698" stroke="#606060" opacity="0.75"/>
</g>
<polygon points="286,626 299,630 330,631 357,632 366,629.5 378,626.5 400,626.6 408,627 440,627 460,628 484,630 518,630 546.5,631.7 575,627.8 589,630 589,641 565,642 545,644 529,648 500,649 487,646 470,643 448,645 440,647 429,651 418,656 408,649 395,644 380,642.5 363.5,647 352,650 324,647 299,652 286,643.7" fill="url(#semTopLayer)"/>
<g stroke="#c4c4c4" stroke-width="0.7" opacity="0.5">
<line x1="292" y1="631" x2="290.5" y2="646"/>
<line x1="297" y1="631" x2="295.5" y2="646"/>
<line x1="303" y1="631" x2="301.5" y2="646"/>
<line x1="311" y1="631" x2="309.5" y2="646"/>
<line x1="322" y1="631" x2="320.5" y2="646"/>
<line x1="336" y1="631" x2="334.5" y2="646"/>
<line x1="347" y1="631" x2="345.5" y2="646"/>
<line x1="360" y1="631" x2="358.5" y2="646"/>
<line x1="371" y1="631" x2="369.5" y2="646"/>
<line x1="386" y1="631" x2="384.5" y2="646"/>
<line x1="398" y1="631" x2="396.5" y2="646"/>
<line x1="436" y1="631" x2="434.5" y2="646"/>
<line x1="446" y1="631" x2="444.5" y2="646"/>
<line x1="458" y1="631" x2="456.5" y2="646"/>
<line x1="467" y1="631" x2="465.5" y2="646"/>
<line x1="479" y1="631" x2="477.5" y2="646"/>
<line x1="492" y1="631" x2="490.5" y2="646"/>
<line x1="497" y1="631" x2="495.5" y2="646"/>
<line x1="503" y1="631" x2="501.5" y2="646"/>
<line x1="512" y1="631" x2="510.5" y2="646"/>
<line x1="526" y1="631" x2="524.5" y2="646"/>
<line x1="541" y1="631" x2="539.5" y2="646"/>
<line x1="559" y1="631" x2="557.5" y2="646"/>
<line x1="572" y1="631" x2="570.5" y2="646"/>
<line x1="583" y1="631" x2="581.5" y2="646"/>
</g>
<polyline points="286,643.7 299,652 324,647 352,650 363.5,647 380,642.5 395,644 408,649 418,656 429,651 440,647 448,645 470,643 487,646 500,649 529,648 545,644 565,642 589,641" fill="none" stroke="#4a4a4a" stroke-width="1.3" filter="url(#b05)"/>
<polyline points="286,642.1 299,650.4 324,645.4 352,648.4 363.5,645.4 380,640.9 395,642.4 408,647.4 418,654.4 429,649.4 440,645.4 448,643.4 470,641.4 487,644.4 500,647.4 529,646.4 545,642.4 565,640.4 589,639.4" fill="none" stroke="#b0b0b0" stroke-width="0.8" opacity="0.7" filter="url(#b05)"/>
<defs><linearGradient id="semWhite" gradientUnits="userSpaceOnUse" x1="0" y1="614" x2="0" y2="632"><stop offset="0" stop-color="#ffffff"/><stop offset="0.5" stop-color="#f2f2f2"/><stop offset="1" stop-color="#cfcfcf"/></linearGradient></defs>
<polygon points="286,622 295,620.5 310,617.5 327,615 352,615.5 362,618 370,621 378,623 388,623.5 400,622.5 420,621.5 437,620 443.6,618 455,620.5 471,623 478,620 484,618 492,615.5 499,613.6 506,616 510,618 520,616.5 530,618.5 540,616.5 550,618 563.5,620 575,619.5 589,617.5 589,630 575,627.8 546.5,631.7 518,630 484,630 460,628 440,627 408,627 400,626.6 378,626.5 366,629.5 357,632 330,631 299,630 286,626" fill="url(#semWhite)" filter="url(#b05)"/>
<polyline points="286,624.2 295,622.7 310,619.7 327,617.2 352,617.7 362,620.2 370,623.2 378,625.2 388,625.7 400,624.7 420,623.7 437,622.2 443.6,620.2 455,622.7 471,625.2 478,622.2 484,620.2 492,617.7 499,615.8000000000001 506,618.2 510,620.2 520,618.7 530,620.7 540,618.7 550,620.2 563.5,622.2 575,621.7 589,619.7" fill="none" stroke="#ffffff" stroke-width="2.2" filter="url(#b05)"/>
<polygon points="408,627 428,627 432,640 430,652 421,657 414,648 410,636" fill="#dcdcdc" filter="url(#b05)"/>
<polygon points="420,650 432,656 448,664 452,668 440,668 424,660" fill="#a8a8a8" filter="url(#b05)"/>
<polygon points="418,690 432,688 436,704 416,704" fill="#505050" filter="url(#b15)" opacity="0.8"/>
<g filter="url(#b05)" fill="#3c3c3c">
<polygon points="300,704 304.5,699 309,704"/>
<polygon points="316,704 321.0,698 326,704"/>
<polygon points="331,704 334.5,699 338,704"/>
<polygon points="347,704 351.5,695 356,704"/>
<polygon points="356,704 359.0,699 362,704"/>
<polygon points="376,704 379.0,700 382,704"/>
<polygon points="430,704 434.0,698 438,704"/>
<polygon points="447,704 450.5,699 454,704"/>
<polygon points="470,704 474.5,697 479,704"/>
<polygon points="486,704 489.0,699 492,704"/>
<polygon points="500,704 504.0,698 508,704"/>
<polygon points="520,704 524.0,699 528,704"/>
<polygon points="544,704 547.0,700 550,704"/>
<polygon points="560,704 564.5,698 569,704"/>
<polygon points="576,704 579.0,700 582,704"/>
</g>
<rect x="286" y="702.5" width="303" height="33" fill="#868686"/>
<g filter="url(#b05)">
<rect x="286.0" y="704.1" width="1.3" height="27.6" fill="#aeaeae" opacity="0.85"/>
<rect x="288.1" y="700.1" width="1.8" height="27.6" fill="#9c9c9c" opacity="0.85"/>
<rect x="290.9" y="701.7" width="1.8" height="20.4" fill="#666666" opacity="0.85"/>
<rect x="293.5" y="702.6" width="1.9" height="23.4" fill="#5a5a5a" opacity="0.85"/>
<rect x="296.1" y="702.7" width="1.7" height="29.7" fill="#747474" opacity="0.85"/>
<rect x="298.0" y="702.6" width="0.8" height="29.1" fill="#9c9c9c" opacity="0.85"/>
<rect x="299.5" y="702.1" width="1.5" height="27.5" fill="#9c9c9c" opacity="0.85"/>
<rect x="301.8" y="702.9" width="1.6" height="23.2" fill="#8e8e8e" opacity="0.85"/>
<rect x="304.2" y="703.2" width="1.9" height="21.5" fill="#666666" opacity="0.85"/>
<rect x="306.6" y="702.4" width="1.1" height="19.2" fill="#666666" opacity="0.85"/>
<rect x="308.1" y="704.7" width="1.1" height="28.0" fill="#666666" opacity="0.85"/>
<rect x="309.5" y="701.8" width="1.1" height="32.9" fill="#5a5a5a" opacity="0.85"/>
<rect x="311.2" y="703.7" width="0.9" height="20.4" fill="#9c9c9c" opacity="0.85"/>
<rect x="312.4" y="703.5" width="1.2" height="18.2" fill="#c4c4c4" opacity="0.85"/>
<rect x="314.1" y="701.8" width="0.9" height="25.5" fill="#5a5a5a" opacity="0.85"/>
<rect x="316.0" y="700.1" width="1.0" height="30.8" fill="#aeaeae" opacity="0.85"/>
<rect x="317.4" y="701.4" width="1.6" height="33.5" fill="#666666" opacity="0.85"/>
<rect x="319.2" y="705.0" width="1.8" height="15.3" fill="#a8a8a8" opacity="0.85"/>
<rect x="321.4" y="699.3" width="2.0" height="22.9" fill="#666666" opacity="0.85"/>
<rect x="324.2" y="704.0" width="0.8" height="21.8" fill="#b6b6b6" opacity="0.85"/>
<rect x="325.3" y="699.1" width="1.1" height="26.4" fill="#9c9c9c" opacity="0.85"/>
<rect x="327.3" y="704.0" width="1.0" height="18.0" fill="#8e8e8e" opacity="0.85"/>
<rect x="328.9" y="704.5" width="1.6" height="27.8" fill="#a8a8a8" opacity="0.85"/>
<rect x="330.9" y="700.2" width="1.0" height="34.1" fill="#aeaeae" opacity="0.85"/>
<rect x="333.2" y="699.3" width="1.5" height="22.4" fill="#c4c4c4" opacity="0.85"/>
<rect x="335.5" y="700.5" width="1.1" height="31.8" fill="#c4c4c4" opacity="0.85"/>
<rect x="337.6" y="704.6" width="1.2" height="30.1" fill="#747474" opacity="0.85"/>
<rect x="339.1" y="700.7" width="1.4" height="33.1" fill="#666666" opacity="0.85"/>
<rect x="340.9" y="701.5" width="0.8" height="22.3" fill="#a8a8a8" opacity="0.85"/>
<rect x="342.0" y="702.4" width="1.1" height="19.5" fill="#aeaeae" opacity="0.85"/>
<rect x="343.7" y="702.9" width="1.9" height="27.4" fill="#b6b6b6" opacity="0.85"/>
<rect x="346.5" y="704.5" width="1.0" height="22.6" fill="#5a5a5a" opacity="0.85"/>
<rect x="348.1" y="699.1" width="1.2" height="30.4" fill="#5a5a5a" opacity="0.85"/>
<rect x="350.1" y="699.8" width="1.7" height="21.3" fill="#b6b6b6" opacity="0.85"/>
<rect x="352.5" y="704.4" width="1.2" height="26.7" fill="#5a5a5a" opacity="0.85"/>
<rect x="354.8" y="701.1" width="1.8" height="29.2" fill="#b6b6b6" opacity="0.85"/>
<rect x="357.8" y="704.7" width="1.8" height="15.8" fill="#c4c4c4" opacity="0.85"/>
<rect x="360.4" y="701.3" width="0.8" height="18.9" fill="#c4c4c4" opacity="0.85"/>
<rect x="361.6" y="705.0" width="0.9" height="28.2" fill="#666666" opacity="0.85"/>
<rect x="363.5" y="701.6" width="1.3" height="30.9" fill="#8e8e8e" opacity="0.85"/>
<rect x="365.1" y="700.9" width="1.7" height="20.5" fill="#5a5a5a" opacity="0.85"/>
<rect x="367.0" y="702.0" width="1.9" height="27.2" fill="#666666" opacity="0.85"/>
<rect x="370.3" y="701.2" width="1.1" height="20.9" fill="#5a5a5a" opacity="0.85"/>
<rect x="372.3" y="703.0" width="1.4" height="23.7" fill="#b6b6b6" opacity="0.85"/>
<rect x="375.0" y="700.2" width="1.2" height="26.3" fill="#a8a8a8" opacity="0.85"/>
<rect x="377.4" y="701.3" width="1.9" height="27.4" fill="#9c9c9c" opacity="0.85"/>
<rect x="379.9" y="701.1" width="1.0" height="32.3" fill="#8e8e8e" opacity="0.85"/>
<rect x="381.1" y="703.9" width="0.9" height="17.8" fill="#a8a8a8" opacity="0.85"/>
<rect x="382.7" y="701.3" width="1.9" height="26.5" fill="#c4c4c4" opacity="0.85"/>
<rect x="385.6" y="700.9" width="1.7" height="31.5" fill="#8e8e8e" opacity="0.85"/>
<rect x="387.8" y="702.4" width="1.5" height="22.2" fill="#a8a8a8" opacity="0.85"/>
<rect x="390.5" y="701.4" width="0.8" height="21.4" fill="#747474" opacity="0.85"/>
<rect x="392.4" y="703.8" width="1.1" height="31.0" fill="#747474" opacity="0.85"/>
<rect x="393.9" y="702.9" width="0.9" height="29.2" fill="#aeaeae" opacity="0.85"/>
<rect x="396.2" y="703.9" width="1.6" height="19.9" fill="#9c9c9c" opacity="0.85"/>
<rect x="398.9" y="703.3" width="1.7" height="19.4" fill="#aeaeae" opacity="0.85"/>
<rect x="401.1" y="702.0" width="1.2" height="32.9" fill="#aeaeae" opacity="0.85"/>
<rect x="402.7" y="699.5" width="1.8" height="34.5" fill="#9c9c9c" opacity="0.85"/>
<rect x="405.6" y="700.2" width="1.0" height="33.1" fill="#8e8e8e" opacity="0.85"/>
<rect x="406.7" y="703.8" width="1.5" height="30.4" fill="#aeaeae" opacity="0.85"/>
<rect x="409.0" y="699.6" width="1.6" height="33.4" fill="#9c9c9c" opacity="0.85"/>
<rect x="411.7" y="700.3" width="1.9" height="33.2" fill="#666666" opacity="0.85"/>
<rect x="415.0" y="704.9" width="2.0" height="29.1" fill="#aeaeae" opacity="0.85"/>
<rect x="417.5" y="701.1" width="1.7" height="20.2" fill="#5a5a5a" opacity="0.85"/>
<rect x="419.9" y="701.9" width="1.5" height="18.5" fill="#a8a8a8" opacity="0.85"/>
<rect x="422.5" y="700.0" width="0.9" height="25.0" fill="#5a5a5a" opacity="0.85"/>
<rect x="424.5" y="705.0" width="1.0" height="28.5" fill="#747474" opacity="0.85"/>
<rect x="426.3" y="704.7" width="1.6" height="22.7" fill="#8e8e8e" opacity="0.85"/>
<rect x="429.3" y="701.6" width="0.9" height="26.7" fill="#9c9c9c" opacity="0.85"/>
<rect x="431.4" y="702.1" width="1.5" height="30.5" fill="#747474" opacity="0.85"/>
<rect x="433.7" y="704.7" width="1.2" height="28.3" fill="#c4c4c4" opacity="0.85"/>
<rect x="435.8" y="704.8" width="1.2" height="23.1" fill="#747474" opacity="0.85"/>
<rect x="437.9" y="699.7" width="1.0" height="20.4" fill="#aeaeae" opacity="0.85"/>
<rect x="439.6" y="702.1" width="1.4" height="23.9" fill="#5a5a5a" opacity="0.85"/>
<rect x="442.2" y="699.6" width="1.5" height="22.9" fill="#8e8e8e" opacity="0.85"/>
<rect x="445.0" y="700.6" width="1.4" height="26.5" fill="#c4c4c4" opacity="0.85"/>
<rect x="446.7" y="702.1" width="1.3" height="19.5" fill="#8e8e8e" opacity="0.85"/>
<rect x="448.7" y="699.8" width="0.8" height="31.9" fill="#a8a8a8" opacity="0.85"/>
<rect x="449.8" y="699.1" width="1.0" height="25.2" fill="#9c9c9c" opacity="0.85"/>
<rect x="451.9" y="699.6" width="1.1" height="31.3" fill="#8e8e8e" opacity="0.85"/>
<rect x="453.3" y="703.3" width="1.4" height="27.2" fill="#a8a8a8" opacity="0.85"/>
<rect x="456.0" y="704.0" width="0.8" height="25.3" fill="#c4c4c4" opacity="0.85"/>
<rect x="457.6" y="702.8" width="1.8" height="25.1" fill="#aeaeae" opacity="0.85"/>
<rect x="460.7" y="700.4" width="1.5" height="30.7" fill="#747474" opacity="0.85"/>
<rect x="463.4" y="702.6" width="1.9" height="30.7" fill="#b6b6b6" opacity="0.85"/>
<rect x="465.7" y="704.3" width="1.7" height="17.7" fill="#9c9c9c" opacity="0.85"/>
<rect x="467.9" y="701.3" width="1.7" height="25.2" fill="#a8a8a8" opacity="0.85"/>
<rect x="470.9" y="700.2" width="1.5" height="29.2" fill="#747474" opacity="0.85"/>
<rect x="473.5" y="704.5" width="0.9" height="30.1" fill="#b6b6b6" opacity="0.85"/>
<rect x="474.8" y="702.0" width="1.4" height="28.3" fill="#b6b6b6" opacity="0.85"/>
<rect x="476.6" y="699.1" width="0.9" height="32.3" fill="#666666" opacity="0.85"/>
<rect x="478.5" y="699.9" width="1.9" height="22.9" fill="#8e8e8e" opacity="0.85"/>
<rect x="480.8" y="704.6" width="1.8" height="16.9" fill="#a8a8a8" opacity="0.85"/>
<rect x="482.9" y="699.5" width="1.9" height="22.0" fill="#8e8e8e" opacity="0.85"/>
<rect x="485.5" y="701.6" width="1.3" height="27.4" fill="#b6b6b6" opacity="0.85"/>
<rect x="487.0" y="700.1" width="1.6" height="26.7" fill="#9c9c9c" opacity="0.85"/>
<rect x="489.7" y="702.6" width="1.3" height="18.8" fill="#9c9c9c" opacity="0.85"/>
<rect x="492.2" y="703.8" width="1.2" height="26.8" fill="#666666" opacity="0.85"/>
<rect x="494.6" y="702.4" width="1.6" height="20.4" fill="#c4c4c4" opacity="0.85"/>
<rect x="497.1" y="700.7" width="1.2" height="21.1" fill="#a8a8a8" opacity="0.85"/>
<rect x="499.4" y="699.8" width="1.0" height="25.1" fill="#c4c4c4" opacity="0.85"/>
<rect x="501.2" y="703.6" width="1.2" height="22.5" fill="#c4c4c4" opacity="0.85"/>
<rect x="503.5" y="700.8" width="0.9" height="20.7" fill="#b6b6b6" opacity="0.85"/>
<rect x="505.7" y="700.4" width="2.0" height="33.8" fill="#5a5a5a" opacity="0.85"/>
<rect x="508.6" y="702.4" width="1.2" height="25.6" fill="#c4c4c4" opacity="0.85"/>
<rect x="510.5" y="703.2" width="2.0" height="28.2" fill="#9c9c9c" opacity="0.85"/>
<rect x="513.9" y="703.4" width="0.8" height="20.4" fill="#666666" opacity="0.85"/>
<rect x="515.4" y="702.9" width="0.9" height="17.3" fill="#9c9c9c" opacity="0.85"/>
<rect x="516.8" y="702.3" width="1.1" height="25.3" fill="#b6b6b6" opacity="0.85"/>
<rect x="519.3" y="702.8" width="1.5" height="29.3" fill="#666666" opacity="0.85"/>
<rect x="521.0" y="701.3" width="1.5" height="32.8" fill="#5a5a5a" opacity="0.85"/>
<rect x="523.2" y="702.3" width="2.0" height="26.7" fill="#8e8e8e" opacity="0.85"/>
<rect x="525.9" y="702.2" width="1.4" height="26.8" fill="#a8a8a8" opacity="0.85"/>
<rect x="527.9" y="702.4" width="1.1" height="21.9" fill="#a8a8a8" opacity="0.85"/>
<rect x="530.1" y="703.6" width="1.2" height="25.2" fill="#5a5a5a" opacity="0.85"/>
<rect x="532.2" y="699.3" width="1.3" height="25.4" fill="#c4c4c4" opacity="0.85"/>
<rect x="534.2" y="699.4" width="1.5" height="34.1" fill="#b6b6b6" opacity="0.85"/>
<rect x="536.4" y="699.3" width="1.4" height="22.2" fill="#9c9c9c" opacity="0.85"/>
<rect x="539.0" y="704.9" width="1.9" height="27.4" fill="#747474" opacity="0.85"/>
<rect x="541.8" y="701.7" width="0.9" height="21.3" fill="#c4c4c4" opacity="0.85"/>
<rect x="543.0" y="701.2" width="1.4" height="20.9" fill="#666666" opacity="0.85"/>
<rect x="545.1" y="701.2" width="1.5" height="30.0" fill="#c4c4c4" opacity="0.85"/>
<rect x="547.8" y="703.4" width="1.0" height="20.2" fill="#a8a8a8" opacity="0.85"/>
<rect x="549.1" y="702.7" width="1.9" height="22.6" fill="#aeaeae" opacity="0.85"/>
<rect x="551.5" y="702.8" width="1.6" height="28.5" fill="#9c9c9c" opacity="0.85"/>
<rect x="553.6" y="704.3" width="1.1" height="16.3" fill="#9c9c9c" opacity="0.85"/>
<rect x="554.9" y="699.2" width="1.1" height="21.4" fill="#c4c4c4" opacity="0.85"/>
<rect x="556.5" y="704.5" width="1.1" height="17.9" fill="#666666" opacity="0.85"/>
<rect x="558.1" y="701.9" width="2.0" height="21.3" fill="#8e8e8e" opacity="0.85"/>
<rect x="560.7" y="703.8" width="1.7" height="22.9" fill="#666666" opacity="0.85"/>
<rect x="563.6" y="701.7" width="1.8" height="29.5" fill="#9c9c9c" opacity="0.85"/>
<rect x="566.1" y="702.9" width="1.0" height="31.9" fill="#747474" opacity="0.85"/>
<rect x="567.7" y="701.6" width="1.5" height="24.0" fill="#747474" opacity="0.85"/>
<rect x="569.4" y="702.3" width="1.9" height="24.2" fill="#666666" opacity="0.85"/>
<rect x="572.2" y="700.8" width="1.8" height="30.8" fill="#8e8e8e" opacity="0.85"/>
<rect x="574.2" y="703.2" width="1.1" height="24.3" fill="#666666" opacity="0.85"/>
<rect x="576.4" y="700.3" width="1.2" height="29.5" fill="#747474" opacity="0.85"/>
<rect x="578.2" y="703.3" width="1.9" height="25.3" fill="#b6b6b6" opacity="0.85"/>
<rect x="581.4" y="701.6" width="1.9" height="30.4" fill="#a8a8a8" opacity="0.85"/>
<rect x="583.9" y="704.8" width="1.2" height="26.1" fill="#c4c4c4" opacity="0.85"/>
<rect x="585.9" y="699.1" width="0.9" height="31.0" fill="#b6b6b6" opacity="0.85"/>
<rect x="587.7" y="703.8" width="1.8" height="24.3" fill="#b6b6b6" opacity="0.85"/>
</g>
<rect x="286" y="723" width="303" height="12" fill="#808080" opacity="0.4"/>
<rect x="286" y="735" width="303" height="16" fill="url(#semSub)"/>
<rect x="286" y="734.2" width="303" height="1.5" fill="#b6b6b6"/>
<rect x="286.3" y="626" width="302.49999999999994" height="107.79999999999995" filter="url(#semNoise)" opacity="0.3"/>
<g transform="translate(390.8,672.8) rotate(-27.5)">
<circle cx="-20.8" cy="-27.0" r="1.15" fill="#e6d62c"/>
<circle cx="-15.9" cy="-27.0" r="1.15" fill="#e6d62c"/>
<circle cx="-11.0" cy="-27.0" r="1.15" fill="#e6d62c"/>
<circle cx="-6.1" cy="-27.0" r="1.15" fill="#e6d62c"/>
<circle cx="-1.2" cy="-27.0" r="1.15" fill="#e6d62c"/>
<circle cx="3.7" cy="-27.0" r="1.15" fill="#e6d62c"/>
<circle cx="8.6" cy="-27.0" r="1.15" fill="#e6d62c"/>
<circle cx="13.5" cy="-27.0" r="1.15" fill="#e6d62c"/>
<circle cx="18.4" cy="-27.0" r="1.15" fill="#e6d62c"/>
<circle cx="-18.4" cy="-22.1" r="1.15" fill="#e6d62c"/>
<circle cx="-8.6" cy="-22.1" r="1.15" fill="#e6d62c"/>
<circle cx="6.1" cy="-22.1" r="1.15" fill="#e6d62c"/>
<circle cx="6.1" cy="-22.1" r="2.2" stroke="#3040d0" stroke-width="0.5" fill="none" opacity="0.8"/>
<circle cx="11.0" cy="-22.1" r="1.15" fill="#e6d62c"/>
<circle cx="20.8" cy="-22.1" r="1.15" fill="#e6d62c"/>
<circle cx="-20.8" cy="-17.2" r="1.15" fill="#e6d62c"/>
<circle cx="-15.9" cy="-17.2" r="1.15" fill="#e6d62c"/>
<circle cx="-6.1" cy="-17.2" r="1.15" fill="#e6d62c"/>
<circle cx="-1.2" cy="-17.2" r="1.15" fill="#e6d62c"/>
<circle cx="-1.2" cy="-17.2" r="2.2" stroke="#3040d0" stroke-width="0.5" fill="none" opacity="0.8"/>
<circle cx="13.5" cy="-17.2" r="1.15" fill="#e6d62c"/>
<circle cx="18.4" cy="-17.2" r="1.15" fill="#e6d62c"/>
<circle cx="-18.4" cy="-12.3" r="1.15" fill="#e6d62c"/>
<circle cx="-13.5" cy="-12.3" r="1.15" fill="#e6d62c"/>
<circle cx="-13.5" cy="-12.3" r="2.2" stroke="#3040d0" stroke-width="0.5" fill="none" opacity="0.8"/>
<circle cx="1.2" cy="-12.3" r="1.15" fill="#e6d62c"/>
<circle cx="6.1" cy="-12.3" r="1.15" fill="#e6d62c"/>
<circle cx="6.1" cy="-12.3" r="2.2" stroke="#3040d0" stroke-width="0.5" fill="none" opacity="0.8"/>
<circle cx="15.9" cy="-12.3" r="1.15" fill="#e6d62c"/>
<circle cx="15.9" cy="-12.3" r="2.2" stroke="#3040d0" stroke-width="0.5" fill="none" opacity="0.8"/>
<circle cx="20.8" cy="-12.3" r="1.15" fill="#e6d62c"/>
<circle cx="-20.8" cy="-7.4" r="1.15" fill="#e6d62c"/>
<circle cx="-11.0" cy="-7.4" r="1.15" fill="#e6d62c"/>
<circle cx="-11.0" cy="-7.4" r="2.2" stroke="#3040d0" stroke-width="0.5" fill="none" opacity="0.8"/>
<circle cx="-6.1" cy="-7.4" r="1.15" fill="#e6d62c"/>
<circle cx="8.6" cy="-7.4" r="1.15" fill="#e6d62c"/>
<circle cx="8.6" cy="-7.4" r="2.2" stroke="#3040d0" stroke-width="0.5" fill="none" opacity="0.8"/>
<circle cx="18.4" cy="-7.4" r="1.15" fill="#e6d62c"/>
<circle cx="-18.4" cy="-2.5" r="1.15" fill="#e6d62c"/>
<circle cx="-3.7" cy="-2.5" r="1.15" fill="#e6d62c"/>
<circle cx="-3.7" cy="-2.5" r="2.2" stroke="#3040d0" stroke-width="0.5" fill="none" opacity="0.8"/>
<circle cx="1.2" cy="-2.5" r="1.15" fill="#e6d62c"/>
<circle cx="11.0" cy="-2.5" r="1.15" fill="#e6d62c"/>
<circle cx="15.9" cy="-2.5" r="1.15" fill="#e6d62c"/>
<circle cx="15.9" cy="-2.5" r="2.2" stroke="#3040d0" stroke-width="0.5" fill="none" opacity="0.8"/>
<circle cx="20.8" cy="-2.5" r="1.15" fill="#e6d62c"/>
<circle cx="-20.8" cy="2.4" r="1.15" fill="#e6d62c"/>
<circle cx="-15.9" cy="2.4" r="1.15" fill="#e6d62c"/>
<circle cx="-11.0" cy="2.4" r="1.15" fill="#e6d62c"/>
<circle cx="-11.0" cy="2.4" r="2.2" stroke="#3040d0" stroke-width="0.5" fill="none" opacity="0.8"/>
<circle cx="3.7" cy="2.4" r="1.15" fill="#e6d62c"/>
<circle cx="13.5" cy="2.4" r="1.15" fill="#e6d62c"/>
<circle cx="18.4" cy="2.4" r="1.15" fill="#e6d62c"/>
<circle cx="-18.4" cy="7.4" r="1.15" fill="#e6d62c"/>
<circle cx="-8.6" cy="7.4" r="1.15" fill="#e6d62c"/>
<circle cx="-3.7" cy="7.4" r="1.15" fill="#e6d62c"/>
<circle cx="-3.7" cy="7.4" r="2.2" stroke="#3040d0" stroke-width="0.5" fill="none" opacity="0.8"/>
<circle cx="6.1" cy="7.4" r="1.15" fill="#e6d62c"/>
<circle cx="6.1" cy="7.4" r="2.2" stroke="#3040d0" stroke-width="0.5" fill="none" opacity="0.8"/>
<circle cx="11.0" cy="7.4" r="1.15" fill="#e6d62c"/>
<circle cx="20.8" cy="7.4" r="1.15" fill="#e6d62c"/>
<circle cx="-20.8" cy="12.2" r="1.15" fill="#e6d62c"/>
<circle cx="-15.9" cy="12.2" r="1.15" fill="#e6d62c"/>
<circle cx="-1.2" cy="12.2" r="1.15" fill="#e6d62c"/>
<circle cx="-1.2" cy="12.2" r="2.2" stroke="#3040d0" stroke-width="0.5" fill="none" opacity="0.8"/>
<circle cx="8.6" cy="12.2" r="1.15" fill="#e6d62c"/>
<circle cx="8.6" cy="12.2" r="2.2" stroke="#3040d0" stroke-width="0.5" fill="none" opacity="0.8"/>
<circle cx="13.5" cy="12.2" r="1.15" fill="#e6d62c"/>
<circle cx="18.4" cy="12.2" r="1.15" fill="#e6d62c"/>
<circle cx="-18.4" cy="17.1" r="1.15" fill="#e6d62c"/>
<circle cx="-13.5" cy="17.1" r="1.15" fill="#e6d62c"/>
<circle cx="-13.5" cy="17.1" r="2.2" stroke="#3040d0" stroke-width="0.5" fill="none" opacity="0.8"/>
<circle cx="-8.6" cy="17.1" r="1.15" fill="#e6d62c"/>
<circle cx="1.2" cy="17.1" r="1.15" fill="#e6d62c"/>
<circle cx="6.1" cy="17.1" r="1.15" fill="#e6d62c"/>
<circle cx="6.1" cy="17.1" r="2.2" stroke="#3040d0" stroke-width="0.5" fill="none" opacity="0.8"/>
<circle cx="15.9" cy="17.1" r="1.15" fill="#e6d62c"/>
<circle cx="15.9" cy="17.1" r="2.2" stroke="#3040d0" stroke-width="0.5" fill="none" opacity="0.8"/>
<circle cx="20.8" cy="17.1" r="1.15" fill="#e6d62c"/>
<circle cx="-20.8" cy="22.0" r="1.15" fill="#e6d62c"/>
<circle cx="-6.1" cy="22.0" r="1.15" fill="#e6d62c"/>
<circle cx="3.7" cy="22.0" r="1.15" fill="#e6d62c"/>
<circle cx="8.6" cy="22.0" r="1.15" fill="#e6d62c"/>
<circle cx="8.6" cy="22.0" r="2.2" stroke="#3040d0" stroke-width="0.5" fill="none" opacity="0.8"/>
<circle cx="18.4" cy="22.0" r="1.15" fill="#e6d62c"/>
<circle cx="-18.4" cy="27.0" r="1.15" fill="#e6d62c"/>
<circle cx="-13.5" cy="27.0" r="1.15" fill="#e6d62c"/>
<circle cx="-8.6" cy="27.0" r="1.15" fill="#e6d62c"/>
<circle cx="-3.7" cy="27.0" r="1.15" fill="#e6d62c"/>
<circle cx="1.2" cy="27.0" r="1.15" fill="#e6d62c"/>
<circle cx="6.1" cy="27.0" r="1.15" fill="#e6d62c"/>
<circle cx="11.0" cy="27.0" r="1.15" fill="#e6d62c"/>
<circle cx="15.9" cy="27.0" r="1.15" fill="#e6d62c"/>
<circle cx="20.8" cy="27.0" r="1.15" fill="#e6d62c"/>
<circle cx="-13.5" cy="-22.1" r="1.55" fill="#1f2fe0"/>
<circle cx="-3.7" cy="-22.1" r="1.55" fill="#1f2fe0"/>
<circle cx="1.2" cy="-22.1" r="1.55" fill="#1f2fe0"/>
<circle cx="15.9" cy="-22.1" r="1.55" fill="#1f2fe0"/>
<circle cx="-11.0" cy="-17.2" r="1.55" fill="#1f2fe0"/>
<circle cx="3.7" cy="-17.2" r="1.55" fill="#1f2fe0"/>
<circle cx="8.6" cy="-17.2" r="1.55" fill="#1f2fe0"/>
<circle cx="-8.6" cy="-12.3" r="1.55" fill="#1f2fe0"/>
<circle cx="-3.7" cy="-12.3" r="1.55" fill="#1f2fe0"/>
<circle cx="11.0" cy="-12.3" r="1.55" fill="#1f2fe0"/>
<circle cx="-15.9" cy="-7.4" r="1.55" fill="#1f2fe0"/>
<circle cx="-1.2" cy="-7.4" r="1.55" fill="#1f2fe0"/>
<circle cx="3.7" cy="-7.4" r="1.55" fill="#1f2fe0"/>
<circle cx="13.5" cy="-7.4" r="1.55" fill="#1f2fe0"/>
<circle cx="-13.5" cy="-2.5" r="1.55" fill="#1f2fe0"/>
<circle cx="-8.6" cy="-2.5" r="1.55" fill="#1f2fe0"/>
<circle cx="6.1" cy="-2.5" r="1.55" fill="#1f2fe0"/>
<circle cx="-6.1" cy="2.4" r="1.55" fill="#1f2fe0"/>
<circle cx="-1.2" cy="2.4" r="1.55" fill="#1f2fe0"/>
<circle cx="8.6" cy="2.4" r="1.55" fill="#1f2fe0"/>
<circle cx="-13.5" cy="7.4" r="1.55" fill="#1f2fe0"/>
<circle cx="1.2" cy="7.4" r="1.55" fill="#1f2fe0"/>
<circle cx="15.9" cy="7.4" r="1.55" fill="#1f2fe0"/>
<circle cx="-11.0" cy="12.2" r="1.55" fill="#1f2fe0"/>
<circle cx="-6.1" cy="12.2" r="1.55" fill="#1f2fe0"/>
<circle cx="3.7" cy="12.2" r="1.55" fill="#1f2fe0"/>
<circle cx="-3.7" cy="17.1" r="1.55" fill="#1f2fe0"/>
<circle cx="11.0" cy="17.1" r="1.55" fill="#1f2fe0"/>
<circle cx="-15.9" cy="22.0" r="1.55" fill="#1f2fe0"/>
<circle cx="-11.0" cy="22.0" r="1.55" fill="#1f2fe0"/>
<circle cx="-1.2" cy="22.0" r="1.55" fill="#1f2fe0"/>
<circle cx="13.5" cy="22.0" r="1.55" fill="#1f2fe0"/>
</g>
<g transform="translate(455.7,675.5) rotate(31)">
<circle cx="-20.8" cy="-27.0" r="1.15" fill="#e6d62c"/>
<circle cx="-15.9" cy="-27.0" r="1.15" fill="#e6d62c"/>
<circle cx="-11.0" cy="-27.0" r="1.15" fill="#e6d62c"/>
<circle cx="-6.1" cy="-27.0" r="1.15" fill="#e6d62c"/>
<circle cx="-1.2" cy="-27.0" r="1.15" fill="#e6d62c"/>
<circle cx="3.7" cy="-27.0" r="1.15" fill="#e6d62c"/>
<circle cx="8.6" cy="-27.0" r="1.15" fill="#e6d62c"/>
<circle cx="13.5" cy="-27.0" r="1.15" fill="#e6d62c"/>
<circle cx="18.4" cy="-27.0" r="1.15" fill="#e6d62c"/>
<circle cx="-18.4" cy="-22.1" r="1.15" fill="#e6d62c"/>
<circle cx="-8.6" cy="-22.1" r="1.15" fill="#e6d62c"/>
<circle cx="6.1" cy="-22.1" r="1.15" fill="#e6d62c"/>
<circle cx="6.1" cy="-22.1" r="2.2" stroke="#3040d0" stroke-width="0.5" fill="none" opacity="0.8"/>
<circle cx="11.0" cy="-22.1" r="1.15" fill="#e6d62c"/>
<circle cx="20.8" cy="-22.1" r="1.15" fill="#e6d62c"/>
<circle cx="-20.8" cy="-17.2" r="1.15" fill="#e6d62c"/>
<circle cx="-15.9" cy="-17.2" r="1.15" fill="#e6d62c"/>
<circle cx="-6.1" cy="-17.2" r="1.15" fill="#e6d62c"/>
<circle cx="-1.2" cy="-17.2" r="1.15" fill="#e6d62c"/>
<circle cx="-1.2" cy="-17.2" r="2.2" stroke="#3040d0" stroke-width="0.5" fill="none" opacity="0.8"/>
<circle cx="13.5" cy="-17.2" r="1.15" fill="#e6d62c"/>
<circle cx="18.4" cy="-17.2" r="1.15" fill="#e6d62c"/>
<circle cx="-18.4" cy="-12.3" r="1.15" fill="#e6d62c"/>
<circle cx="-13.5" cy="-12.3" r="1.15" fill="#e6d62c"/>
<circle cx="-13.5" cy="-12.3" r="2.2" stroke="#3040d0" stroke-width="0.5" fill="none" opacity="0.8"/>
<circle cx="1.2" cy="-12.3" r="1.15" fill="#e6d62c"/>
<circle cx="6.1" cy="-12.3" r="1.15" fill="#e6d62c"/>
<circle cx="6.1" cy="-12.3" r="2.2" stroke="#3040d0" stroke-width="0.5" fill="none" opacity="0.8"/>
<circle cx="15.9" cy="-12.3" r="1.15" fill="#e6d62c"/>
<circle cx="15.9" cy="-12.3" r="2.2" stroke="#3040d0" stroke-width="0.5" fill="none" opacity="0.8"/>
<circle cx="20.8" cy="-12.3" r="1.15" fill="#e6d62c"/>
<circle cx="-20.8" cy="-7.4" r="1.15" fill="#e6d62c"/>
<circle cx="-11.0" cy="-7.4" r="1.15" fill="#e6d62c"/>
<circle cx="-11.0" cy="-7.4" r="2.2" stroke="#3040d0" stroke-width="0.5" fill="none" opacity="0.8"/>
<circle cx="-6.1" cy="-7.4" r="1.15" fill="#e6d62c"/>
<circle cx="8.6" cy="-7.4" r="1.15" fill="#e6d62c"/>
<circle cx="8.6" cy="-7.4" r="2.2" stroke="#3040d0" stroke-width="0.5" fill="none" opacity="0.8"/>
<circle cx="18.4" cy="-7.4" r="1.15" fill="#e6d62c"/>
<circle cx="-18.4" cy="-2.5" r="1.15" fill="#e6d62c"/>
<circle cx="-3.7" cy="-2.5" r="1.15" fill="#e6d62c"/>
<circle cx="-3.7" cy="-2.5" r="2.2" stroke="#3040d0" stroke-width="0.5" fill="none" opacity="0.8"/>
<circle cx="1.2" cy="-2.5" r="1.15" fill="#e6d62c"/>
<circle cx="11.0" cy="-2.5" r="1.15" fill="#e6d62c"/>
<circle cx="15.9" cy="-2.5" r="1.15" fill="#e6d62c"/>
<circle cx="15.9" cy="-2.5" r="2.2" stroke="#3040d0" stroke-width="0.5" fill="none" opacity="0.8"/>
<circle cx="20.8" cy="-2.5" r="1.15" fill="#e6d62c"/>
<circle cx="-20.8" cy="2.4" r="1.15" fill="#e6d62c"/>
<circle cx="-15.9" cy="2.4" r="1.15" fill="#e6d62c"/>
<circle cx="-11.0" cy="2.4" r="1.15" fill="#e6d62c"/>
<circle cx="-11.0" cy="2.4" r="2.2" stroke="#3040d0" stroke-width="0.5" fill="none" opacity="0.8"/>
<circle cx="3.7" cy="2.4" r="1.15" fill="#e6d62c"/>
<circle cx="13.5" cy="2.4" r="1.15" fill="#e6d62c"/>
<circle cx="18.4" cy="2.4" r="1.15" fill="#e6d62c"/>
<circle cx="-18.4" cy="7.4" r="1.15" fill="#e6d62c"/>
<circle cx="-8.6" cy="7.4" r="1.15" fill="#e6d62c"/>
<circle cx="-3.7" cy="7.4" r="1.15" fill="#e6d62c"/>
<circle cx="-3.7" cy="7.4" r="2.2" stroke="#3040d0" stroke-width="0.5" fill="none" opacity="0.8"/>
<circle cx="6.1" cy="7.4" r="1.15" fill="#e6d62c"/>
<circle cx="6.1" cy="7.4" r="2.2" stroke="#3040d0" stroke-width="0.5" fill="none" opacity="0.8"/>
<circle cx="11.0" cy="7.4" r="1.15" fill="#e6d62c"/>
<circle cx="20.8" cy="7.4" r="1.15" fill="#e6d62c"/>
<circle cx="-20.8" cy="12.2" r="1.15" fill="#e6d62c"/>
<circle cx="-15.9" cy="12.2" r="1.15" fill="#e6d62c"/>
<circle cx="-1.2" cy="12.2" r="1.15" fill="#e6d62c"/>
<circle cx="-1.2" cy="12.2" r="2.2" stroke="#3040d0" stroke-width="0.5" fill="none" opacity="0.8"/>
<circle cx="8.6" cy="12.2" r="1.15" fill="#e6d62c"/>
<circle cx="8.6" cy="12.2" r="2.2" stroke="#3040d0" stroke-width="0.5" fill="none" opacity="0.8"/>
<circle cx="13.5" cy="12.2" r="1.15" fill="#e6d62c"/>
<circle cx="18.4" cy="12.2" r="1.15" fill="#e6d62c"/>
<circle cx="-18.4" cy="17.1" r="1.15" fill="#e6d62c"/>
<circle cx="-13.5" cy="17.1" r="1.15" fill="#e6d62c"/>
<circle cx="-13.5" cy="17.1" r="2.2" stroke="#3040d0" stroke-width="0.5" fill="none" opacity="0.8"/>
<circle cx="-8.6" cy="17.1" r="1.15" fill="#e6d62c"/>
<circle cx="1.2" cy="17.1" r="1.15" fill="#e6d62c"/>
<circle cx="6.1" cy="17.1" r="1.15" fill="#e6d62c"/>
<circle cx="6.1" cy="17.1" r="2.2" stroke="#3040d0" stroke-width="0.5" fill="none" opacity="0.8"/>
<circle cx="15.9" cy="17.1" r="1.15" fill="#e6d62c"/>
<circle cx="15.9" cy="17.1" r="2.2" stroke="#3040d0" stroke-width="0.5" fill="none" opacity="0.8"/>
<circle cx="20.8" cy="17.1" r="1.15" fill="#e6d62c"/>
<circle cx="-20.8" cy="22.0" r="1.15" fill="#e6d62c"/>
<circle cx="-6.1" cy="22.0" r="1.15" fill="#e6d62c"/>
<circle cx="3.7" cy="22.0" r="1.15" fill="#e6d62c"/>
<circle cx="8.6" cy="22.0" r="1.15" fill="#e6d62c"/>
<circle cx="8.6" cy="22.0" r="2.2" stroke="#3040d0" stroke-width="0.5" fill="none" opacity="0.8"/>
<circle cx="18.4" cy="22.0" r="1.15" fill="#e6d62c"/>
<circle cx="-18.4" cy="27.0" r="1.15" fill="#e6d62c"/>
<circle cx="-13.5" cy="27.0" r="1.15" fill="#e6d62c"/>
<circle cx="-8.6" cy="27.0" r="1.15" fill="#e6d62c"/>
<circle cx="-3.7" cy="27.0" r="1.15" fill="#e6d62c"/>
<circle cx="1.2" cy="27.0" r="1.15" fill="#e6d62c"/>
<circle cx="6.1" cy="27.0" r="1.15" fill="#e6d62c"/>
<circle cx="11.0" cy="27.0" r="1.15" fill="#e6d62c"/>
<circle cx="15.9" cy="27.0" r="1.15" fill="#e6d62c"/>
<circle cx="20.8" cy="27.0" r="1.15" fill="#e6d62c"/>
<circle cx="-13.5" cy="-22.1" r="1.55" fill="#1f2fe0"/>
<circle cx="-3.7" cy="-22.1" r="1.55" fill="#1f2fe0"/>
<circle cx="1.2" cy="-22.1" r="1.55" fill="#1f2fe0"/>
<circle cx="15.9" cy="-22.1" r="1.55" fill="#1f2fe0"/>
<circle cx="-11.0" cy="-17.2" r="1.55" fill="#1f2fe0"/>
<circle cx="3.7" cy="-17.2" r="1.55" fill="#1f2fe0"/>
<circle cx="8.6" cy="-17.2" r="1.55" fill="#1f2fe0"/>
<circle cx="-8.6" cy="-12.3" r="1.55" fill="#1f2fe0"/>
<circle cx="-3.7" cy="-12.3" r="1.55" fill="#1f2fe0"/>
<circle cx="11.0" cy="-12.3" r="1.55" fill="#1f2fe0"/>
<circle cx="-15.9" cy="-7.4" r="1.55" fill="#1f2fe0"/>
<circle cx="-1.2" cy="-7.4" r="1.55" fill="#1f2fe0"/>
<circle cx="3.7" cy="-7.4" r="1.55" fill="#1f2fe0"/>
<circle cx="13.5" cy="-7.4" r="1.55" fill="#1f2fe0"/>
<circle cx="-13.5" cy="-2.5" r="1.55" fill="#1f2fe0"/>
<circle cx="-8.6" cy="-2.5" r="1.55" fill="#1f2fe0"/>
<circle cx="6.1" cy="-2.5" r="1.55" fill="#1f2fe0"/>
<circle cx="-6.1" cy="2.4" r="1.55" fill="#1f2fe0"/>
<circle cx="-1.2" cy="2.4" r="1.55" fill="#1f2fe0"/>
<circle cx="8.6" cy="2.4" r="1.55" fill="#1f2fe0"/>
<circle cx="-13.5" cy="7.4" r="1.55" fill="#1f2fe0"/>
<circle cx="1.2" cy="7.4" r="1.55" fill="#1f2fe0"/>
<circle cx="15.9" cy="7.4" r="1.55" fill="#1f2fe0"/>
<circle cx="-11.0" cy="12.2" r="1.55" fill="#1f2fe0"/>
<circle cx="-6.1" cy="12.2" r="1.55" fill="#1f2fe0"/>
<circle cx="3.7" cy="12.2" r="1.55" fill="#1f2fe0"/>
<circle cx="-3.7" cy="17.1" r="1.55" fill="#1f2fe0"/>
<circle cx="11.0" cy="17.1" r="1.55" fill="#1f2fe0"/>
<circle cx="-15.9" cy="22.0" r="1.55" fill="#1f2fe0"/>
<circle cx="-11.0" cy="22.0" r="1.55" fill="#1f2fe0"/>
<circle cx="-1.2" cy="22.0" r="1.55" fill="#1f2fe0"/>
<circle cx="13.5" cy="22.0" r="1.55" fill="#1f2fe0"/>
</g>
<g transform="translate(567.5,672.8) rotate(0)">
<circle cx="-28.5" cy="-31.4" r="1.3" fill="#e6d62c"/>
<circle cx="-22.8" cy="-31.4" r="1.3" fill="#e6d62c"/>
<circle cx="-17.1" cy="-31.4" r="1.3" fill="#e6d62c"/>
<circle cx="-11.4" cy="-31.4" r="1.3" fill="#e6d62c"/>
<circle cx="-5.7" cy="-31.4" r="1.3" fill="#e6d62c"/>
<circle cx="0.0" cy="-31.4" r="1.3" fill="#e6d62c"/>
<circle cx="5.7" cy="-31.4" r="1.3" fill="#e6d62c"/>
<circle cx="11.4" cy="-31.4" r="1.3" fill="#e6d62c"/>
<circle cx="17.1" cy="-31.4" r="1.3" fill="#e6d62c"/>
<circle cx="22.8" cy="-31.4" r="1.3" fill="#e6d62c"/>
<circle cx="28.5" cy="-31.4" r="1.3" fill="#e6d62c"/>
<circle cx="-28.5" cy="-25.7" r="1.3" fill="#e6d62c"/>
<circle cx="-11.4" cy="-25.7" r="1.3" fill="#e6d62c"/>
<circle cx="-5.7" cy="-25.7" r="1.3" fill="#e6d62c"/>
<circle cx="0.0" cy="-25.7" r="1.3" fill="#e6d62c"/>
<circle cx="17.1" cy="-25.7" r="1.3" fill="#e6d62c"/>
<circle cx="22.8" cy="-25.7" r="1.3" fill="#e6d62c"/>
<circle cx="28.5" cy="-25.7" r="1.3" fill="#e6d62c"/>
<circle cx="-28.5" cy="-20.0" r="1.3" fill="#e6d62c"/>
<path d="M-26.9,-21.6 a2,2 0 0 1 0,3.2" stroke="#2b3ad8" stroke-width="0.7" fill="none"/>
<circle cx="-22.8" cy="-20.0" r="1.3" fill="#e6d62c"/>
<circle cx="-17.1" cy="-20.0" r="1.3" fill="#e6d62c"/>
<path d="M-15.5,-21.6 a2,2 0 0 1 0,3.2" stroke="#2b3ad8" stroke-width="0.7" fill="none"/>
<circle cx="-11.4" cy="-20.0" r="1.3" fill="#e6d62c"/>
<path d="M-9.8,-21.6 a2,2 0 0 1 0,3.2" stroke="#2b3ad8" stroke-width="0.7" fill="none"/>
<circle cx="0.0" cy="-20.0" r="1.3" fill="#e6d62c"/>
<path d="M1.6,-21.6 a2,2 0 0 1 0,3.2" stroke="#2b3ad8" stroke-width="0.7" fill="none"/>
<circle cx="5.7" cy="-20.0" r="1.3" fill="#e6d62c"/>
<path d="M7.3,-21.6 a2,2 0 0 1 0,3.2" stroke="#2b3ad8" stroke-width="0.7" fill="none"/>
<circle cx="11.4" cy="-20.0" r="1.3" fill="#e6d62c"/>
<circle cx="17.1" cy="-20.0" r="1.3" fill="#e6d62c"/>
<path d="M18.7,-21.6 a2,2 0 0 1 0,3.2" stroke="#2b3ad8" stroke-width="0.7" fill="none"/>
<circle cx="28.5" cy="-20.0" r="1.3" fill="#e6d62c"/>
<circle cx="-28.5" cy="-14.2" r="1.3" fill="#e6d62c"/>
<circle cx="-11.4" cy="-14.2" r="1.3" fill="#e6d62c"/>
<circle cx="-5.7" cy="-14.2" r="1.3" fill="#e6d62c"/>
<circle cx="0.0" cy="-14.2" r="1.3" fill="#e6d62c"/>
<circle cx="17.1" cy="-14.2" r="1.3" fill="#e6d62c"/>
<circle cx="22.8" cy="-14.2" r="1.3" fill="#e6d62c"/>
<circle cx="28.5" cy="-14.2" r="1.3" fill="#e6d62c"/>
<circle cx="-28.5" cy="-8.6" r="1.3" fill="#e6d62c"/>
<path d="M-26.9,-10.2 a2,2 0 0 1 0,3.2" stroke="#2b3ad8" stroke-width="0.7" fill="none"/>
<circle cx="-22.8" cy="-8.6" r="1.3" fill="#e6d62c"/>
<circle cx="-17.1" cy="-8.6" r="1.3" fill="#e6d62c"/>
<path d="M-15.5,-10.2 a2,2 0 0 1 0,3.2" stroke="#2b3ad8" stroke-width="0.7" fill="none"/>
<circle cx="-11.4" cy="-8.6" r="1.3" fill="#e6d62c"/>
<path d="M-9.8,-10.2 a2,2 0 0 1 0,3.2" stroke="#2b3ad8" stroke-width="0.7" fill="none"/>
<circle cx="0.0" cy="-8.6" r="1.3" fill="#e6d62c"/>
<path d="M1.6,-10.2 a2,2 0 0 1 0,3.2" stroke="#2b3ad8" stroke-width="0.7" fill="none"/>
<circle cx="5.7" cy="-8.6" r="1.3" fill="#e6d62c"/>
<path d="M7.3,-10.2 a2,2 0 0 1 0,3.2" stroke="#2b3ad8" stroke-width="0.7" fill="none"/>
<circle cx="11.4" cy="-8.6" r="1.3" fill="#e6d62c"/>
<circle cx="17.1" cy="-8.6" r="1.3" fill="#e6d62c"/>
<path d="M18.7,-10.2 a2,2 0 0 1 0,3.2" stroke="#2b3ad8" stroke-width="0.7" fill="none"/>
<circle cx="28.5" cy="-8.6" r="1.3" fill="#e6d62c"/>
<circle cx="-28.5" cy="-2.9" r="1.3" fill="#e6d62c"/>
<circle cx="-11.4" cy="-2.9" r="1.3" fill="#e6d62c"/>
<circle cx="-5.7" cy="-2.9" r="1.3" fill="#e6d62c"/>
<circle cx="0.0" cy="-2.9" r="1.3" fill="#e6d62c"/>
<circle cx="17.1" cy="-2.9" r="1.3" fill="#e6d62c"/>
<circle cx="22.8" cy="-2.9" r="1.3" fill="#e6d62c"/>
<circle cx="28.5" cy="-2.9" r="1.3" fill="#e6d62c"/>
<circle cx="-28.5" cy="2.9" r="1.3" fill="#e6d62c"/>
<path d="M-26.9,1.3 a2,2 0 0 1 0,3.2" stroke="#2b3ad8" stroke-width="0.7" fill="none"/>
<circle cx="-22.8" cy="2.9" r="1.3" fill="#e6d62c"/>
<circle cx="-17.1" cy="2.9" r="1.3" fill="#e6d62c"/>
<path d="M-15.5,1.3 a2,2 0 0 1 0,3.2" stroke="#2b3ad8" stroke-width="0.7" fill="none"/>
<circle cx="-11.4" cy="2.9" r="1.3" fill="#e6d62c"/>
<path d="M-9.8,1.3 a2,2 0 0 1 0,3.2" stroke="#2b3ad8" stroke-width="0.7" fill="none"/>
<circle cx="0.0" cy="2.9" r="1.3" fill="#e6d62c"/>
<path d="M1.6,1.3 a2,2 0 0 1 0,3.2" stroke="#2b3ad8" stroke-width="0.7" fill="none"/>
<circle cx="5.7" cy="2.9" r="1.3" fill="#e6d62c"/>
<path d="M7.3,1.3 a2,2 0 0 1 0,3.2" stroke="#2b3ad8" stroke-width="0.7" fill="none"/>
<circle cx="11.4" cy="2.9" r="1.3" fill="#e6d62c"/>
<circle cx="17.1" cy="2.9" r="1.3" fill="#e6d62c"/>
<path d="M18.7,1.3 a2,2 0 0 1 0,3.2" stroke="#2b3ad8" stroke-width="0.7" fill="none"/>
<circle cx="28.5" cy="2.9" r="1.3" fill="#e6d62c"/>
<circle cx="-28.5" cy="8.5" r="1.3" fill="#e6d62c"/>
<circle cx="-11.4" cy="8.5" r="1.3" fill="#e6d62c"/>
<circle cx="-5.7" cy="8.5" r="1.3" fill="#e6d62c"/>
<circle cx="0.0" cy="8.5" r="1.3" fill="#e6d62c"/>
<circle cx="17.1" cy="8.5" r="1.3" fill="#e6d62c"/>
<circle cx="22.8" cy="8.5" r="1.3" fill="#e6d62c"/>
<circle cx="28.5" cy="8.5" r="1.3" fill="#e6d62c"/>
<circle cx="-28.5" cy="14.2" r="1.3" fill="#e6d62c"/>
<path d="M-26.9,12.7 a2,2 0 0 1 0,3.2" stroke="#2b3ad8" stroke-width="0.7" fill="none"/>
<circle cx="-22.8" cy="14.2" r="1.3" fill="#e6d62c"/>
<circle cx="-17.1" cy="14.2" r="1.3" fill="#e6d62c"/>
<path d="M-15.5,12.7 a2,2 0 0 1 0,3.2" stroke="#2b3ad8" stroke-width="0.7" fill="none"/>
<circle cx="-11.4" cy="14.2" r="1.3" fill="#e6d62c"/>
<path d="M-9.8,12.7 a2,2 0 0 1 0,3.2" stroke="#2b3ad8" stroke-width="0.7" fill="none"/>
<circle cx="0.0" cy="14.2" r="1.3" fill="#e6d62c"/>
<path d="M1.6,12.7 a2,2 0 0 1 0,3.2" stroke="#2b3ad8" stroke-width="0.7" fill="none"/>
<circle cx="5.7" cy="14.2" r="1.3" fill="#e6d62c"/>
<path d="M7.3,12.7 a2,2 0 0 1 0,3.2" stroke="#2b3ad8" stroke-width="0.7" fill="none"/>
<circle cx="11.4" cy="14.2" r="1.3" fill="#e6d62c"/>
<circle cx="17.1" cy="14.2" r="1.3" fill="#e6d62c"/>
<path d="M18.7,12.7 a2,2 0 0 1 0,3.2" stroke="#2b3ad8" stroke-width="0.7" fill="none"/>
<circle cx="28.5" cy="14.2" r="1.3" fill="#e6d62c"/>
<circle cx="-28.5" cy="20.0" r="1.3" fill="#e6d62c"/>
<circle cx="-11.4" cy="20.0" r="1.3" fill="#e6d62c"/>
<circle cx="-5.7" cy="20.0" r="1.3" fill="#e6d62c"/>
<circle cx="0.0" cy="20.0" r="1.3" fill="#e6d62c"/>
<circle cx="17.1" cy="20.0" r="1.3" fill="#e6d62c"/>
<circle cx="22.8" cy="20.0" r="1.3" fill="#e6d62c"/>
<circle cx="28.5" cy="20.0" r="1.3" fill="#e6d62c"/>
<circle cx="-28.5" cy="25.6" r="1.3" fill="#e6d62c"/>
<path d="M-26.9,24.0 a2,2 0 0 1 0,3.2" stroke="#2b3ad8" stroke-width="0.7" fill="none"/>
<circle cx="-22.8" cy="25.6" r="1.3" fill="#e6d62c"/>
<circle cx="-17.1" cy="25.6" r="1.3" fill="#e6d62c"/>
<path d="M-15.5,24.0 a2,2 0 0 1 0,3.2" stroke="#2b3ad8" stroke-width="0.7" fill="none"/>
<circle cx="-11.4" cy="25.6" r="1.3" fill="#e6d62c"/>
<path d="M-9.8,24.0 a2,2 0 0 1 0,3.2" stroke="#2b3ad8" stroke-width="0.7" fill="none"/>
<circle cx="0.0" cy="25.6" r="1.3" fill="#e6d62c"/>
<path d="M1.6,24.0 a2,2 0 0 1 0,3.2" stroke="#2b3ad8" stroke-width="0.7" fill="none"/>
<circle cx="5.7" cy="25.6" r="1.3" fill="#e6d62c"/>
<path d="M7.3,24.0 a2,2 0 0 1 0,3.2" stroke="#2b3ad8" stroke-width="0.7" fill="none"/>
<circle cx="11.4" cy="25.6" r="1.3" fill="#e6d62c"/>
<circle cx="17.1" cy="25.6" r="1.3" fill="#e6d62c"/>
<path d="M18.7,24.0 a2,2 0 0 1 0,3.2" stroke="#2b3ad8" stroke-width="0.7" fill="none"/>
<circle cx="28.5" cy="25.6" r="1.3" fill="#e6d62c"/>
<circle cx="-28.5" cy="31.4" r="1.3" fill="#e6d62c"/>
<circle cx="-22.8" cy="31.4" r="1.3" fill="#e6d62c"/>
<circle cx="-17.1" cy="31.4" r="1.3" fill="#e6d62c"/>
<circle cx="-11.4" cy="31.4" r="1.3" fill="#e6d62c"/>
<circle cx="-5.7" cy="31.4" r="1.3" fill="#e6d62c"/>
<circle cx="0.0" cy="31.4" r="1.3" fill="#e6d62c"/>
<circle cx="5.7" cy="31.4" r="1.3" fill="#e6d62c"/>
<circle cx="11.4" cy="31.4" r="1.3" fill="#e6d62c"/>
<circle cx="17.1" cy="31.4" r="1.3" fill="#e6d62c"/>
<circle cx="22.8" cy="31.4" r="1.3" fill="#e6d62c"/>
<circle cx="28.5" cy="31.4" r="1.3" fill="#e6d62c"/>
<circle cx="-22.8" cy="-25.7" r="1.75" fill="#1f2fe0"/>
<circle cx="-17.1" cy="-25.7" r="1.75" fill="#1f2fe0"/>
<circle cx="5.7" cy="-25.7" r="1.75" fill="#1f2fe0"/>
<circle cx="11.4" cy="-25.7" r="1.75" fill="#1f2fe0"/>
<circle cx="-5.7" cy="-20.0" r="1.75" fill="#1f2fe0"/>
<circle cx="22.8" cy="-20.0" r="1.75" fill="#1f2fe0"/>
<circle cx="-22.8" cy="-14.2" r="1.75" fill="#1f2fe0"/>
<circle cx="-17.1" cy="-14.2" r="1.75" fill="#1f2fe0"/>
<circle cx="5.7" cy="-14.2" r="1.75" fill="#1f2fe0"/>
<circle cx="11.4" cy="-14.2" r="1.75" fill="#1f2fe0"/>
<circle cx="-5.7" cy="-8.6" r="1.75" fill="#1f2fe0"/>
<circle cx="22.8" cy="-8.6" r="1.75" fill="#1f2fe0"/>
<circle cx="-22.8" cy="-2.9" r="1.75" fill="#1f2fe0"/>
<circle cx="-17.1" cy="-2.9" r="1.75" fill="#1f2fe0"/>
<circle cx="5.7" cy="-2.9" r="1.75" fill="#1f2fe0"/>
<circle cx="11.4" cy="-2.9" r="1.75" fill="#1f2fe0"/>
<circle cx="-5.7" cy="2.9" r="1.75" fill="#1f2fe0"/>
<circle cx="22.8" cy="2.9" r="1.75" fill="#1f2fe0"/>
<circle cx="-22.8" cy="8.5" r="1.75" fill="#1f2fe0"/>
<circle cx="-17.1" cy="8.5" r="1.75" fill="#1f2fe0"/>
<circle cx="5.7" cy="8.5" r="1.75" fill="#1f2fe0"/>
<circle cx="11.4" cy="8.5" r="1.75" fill="#1f2fe0"/>
<circle cx="-5.7" cy="14.2" r="1.75" fill="#1f2fe0"/>
<circle cx="22.8" cy="14.2" r="1.75" fill="#1f2fe0"/>
<circle cx="-22.8" cy="20.0" r="1.75" fill="#1f2fe0"/>
<circle cx="-17.1" cy="20.0" r="1.75" fill="#1f2fe0"/>
<circle cx="5.7" cy="20.0" r="1.75" fill="#1f2fe0"/>
<circle cx="11.4" cy="20.0" r="1.75" fill="#1f2fe0"/>
<circle cx="-5.7" cy="25.6" r="1.75" fill="#1f2fe0"/>
<circle cx="22.8" cy="25.6" r="1.75" fill="#1f2fe0"/>
</g>
</g>
<text x="401" y="726" font-size="18.5" fill="#f3e425" stroke="#f3e425" stroke-width="0.3" textLength="43" lengthAdjust="spacingAndGlyphs">[hk1]</text>
<text x="543" y="726" font-size="18.5" fill="#f3e425" stroke="#f3e425" stroke-width="0.3" textLength="39.5" lengthAdjust="spacingAndGlyphs">[001]</text>
<defs><clipPath id="starClip"><polygon points="366.6,507.1 403.2,525.7 416.8,507.1 431.6,521.2 465,505.1 458.6,530.2 497.2,521.9 472.7,536.7 533.2,543.7 477.2,549.5 490.7,559.2 470.2,560.5 498.5,581 454.7,567.5 455.4,581 430.9,570.7 423.5,582.3 409,573.3 397.5,582.3 387.2,574 360.8,587.5 363.4,570.7 325.4,565 353.1,556.6 316.4,541.2 356.9,539.2 330.6,522.9 373.7,527"/></clipPath></defs>
<polygon points="366.6,507.1 403.2,525.7 416.8,507.1 431.6,521.2 465,505.1 458.6,530.2 497.2,521.9 472.7,536.7 533.2,543.7 477.2,549.5 490.7,559.2 470.2,560.5 498.5,581 454.7,567.5 455.4,581 430.9,570.7 423.5,582.3 409,573.3 397.5,582.3 387.2,574 360.8,587.5 363.4,570.7 325.4,565 353.1,556.6 316.4,541.2 356.9,539.2 330.6,522.9 373.7,527" fill="#fff" stroke="#ff0000" stroke-width="5.8" stroke-linejoin="miter" stroke-miterlimit="20" clip-path="url(#starClip)"/>
<text x="377" y="557" font-size="28.5" fill="#ff0000" stroke="#ff0000" stroke-width="0.5" textLength="86" lengthAdjust="spacingAndGlyphs">9.24 %</text>
<defs><clipPath id="plotClip"><rect x="280.3" y="399" width="444" height="356"/></clipPath></defs>
<g clip-path="url(#plotClip)">
<path d="M280.3,465.8 C283.0,465.8 291.0,465.8 296.3,466.0 C301.7,466.2 307.0,466.6 312.4,467.0 C317.7,467.3 323.1,467.8 328.4,468.3 C333.8,468.7 339.1,469.1 344.5,469.6 C349.8,470.0 355.2,470.3 360.5,470.7 C365.8,471.2 371.2,471.7 376.5,472.3 C381.9,472.8 387.2,473.5 392.6,474.2 C397.9,474.9 403.3,475.6 408.6,476.4 C414.0,477.2 419.3,478.1 424.7,479.0 C430.0,479.8 435.4,480.7 440.7,481.5 C446.0,482.4 451.4,483.1 456.7,484.1 C462.1,485.2 467.4,486.7 472.8,488.0 C478.1,489.4 483.5,490.7 488.8,492.3 C494.2,494.0 499.5,496.0 504.9,498.1 C510.2,500.1 515.6,501.6 520.9,504.7 C526.2,507.7 531.6,512.6 536.9,516.3 C542.3,520.1 547.6,522.0 553.0,527.1 C558.3,532.2 563.7,540.3 569.0,547.0 C574.4,553.7 579.7,558.5 585.1,567.1 C590.4,575.6 595.8,587.8 601.1,598.4 C606.4,609.0 611.8,617.8 617.1,630.8 C622.5,643.8 627.8,661.1 633.2,676.3 C638.5,691.4 644.6,708.6 649.2,721.7 C653.8,734.9 658.9,749.5 660.8,755.0" fill="none" stroke="#2aa864" stroke-width="3.2" stroke-linecap="butt"/>
<circle cx="280.3" cy="465.8" r="6.35" fill="url(#ballG)"/>
<circle cx="296.3" cy="466.0" r="6.35" fill="url(#ballG)"/>
<circle cx="312.4" cy="467.0" r="6.35" fill="url(#ballG)"/>
<circle cx="328.4" cy="468.3" r="6.35" fill="url(#ballG)"/>
<circle cx="344.5" cy="469.6" r="6.35" fill="url(#ballG)"/>
<circle cx="360.5" cy="470.7" r="6.35" fill="url(#ballG)"/>
<circle cx="376.5" cy="472.3" r="6.35" fill="url(#ballG)"/>
<circle cx="392.6" cy="474.2" r="6.35" fill="url(#ballG)"/>
<circle cx="408.6" cy="476.4" r="6.35" fill="url(#ballG)"/>
<circle cx="424.7" cy="479.0" r="6.35" fill="url(#ballG)"/>
<circle cx="440.7" cy="481.5" r="6.35" fill="url(#ballG)"/>
<circle cx="456.7" cy="484.1" r="6.35" fill="url(#ballG)"/>
<circle cx="472.8" cy="488.0" r="6.35" fill="url(#ballG)"/>
<circle cx="488.8" cy="492.3" r="6.35" fill="url(#ballG)"/>
<circle cx="504.9" cy="498.1" r="6.35" fill="url(#ballG)"/>
<circle cx="520.9" cy="504.7" r="6.35" fill="url(#ballG)"/>
<circle cx="536.9" cy="516.3" r="6.35" fill="url(#ballG)"/>
<circle cx="553.0" cy="527.1" r="6.35" fill="url(#ballG)"/>
<circle cx="569.0" cy="547.0" r="6.35" fill="url(#ballG)"/>
<circle cx="585.1" cy="567.1" r="6.35" fill="url(#ballG)"/>
<circle cx="601.1" cy="598.4" r="6.35" fill="url(#ballG)"/>
<circle cx="617.1" cy="630.8" r="6.35" fill="url(#ballG)"/>
<circle cx="633.2" cy="676.3" r="6.35" fill="url(#ballG)"/>
<circle cx="649.2" cy="721.7" r="6.35" fill="url(#ballG)"/>
<path d="M280.3,437.5 C283.0,437.6 291.0,437.8 296.3,438.0 C301.7,438.3 307.0,438.7 312.4,439.0 C317.7,439.3 323.1,439.6 328.4,440.0 C333.8,440.3 339.1,440.8 344.5,441.3 C349.8,441.7 355.2,442.0 360.5,442.4 C365.8,442.9 371.2,443.5 376.5,444.0 C381.9,444.5 387.2,444.8 392.6,445.5 C397.9,446.1 403.3,447.3 408.6,448.0 C414.0,448.6 419.3,448.9 424.7,449.5 C430.0,450.1 435.4,450.8 440.7,451.5 C446.0,452.3 451.4,453.2 456.7,454.0 C462.1,454.8 467.4,455.5 472.8,456.5 C478.1,457.5 483.5,458.8 488.8,460.2 C494.2,461.5 499.5,463.0 504.9,464.5 C510.2,466.0 515.6,467.2 520.9,469.2 C526.2,471.3 531.6,474.3 536.9,476.8 C542.3,479.2 547.6,480.6 553.0,483.9 C558.3,487.3 563.7,492.4 569.0,496.9 C574.4,501.4 579.7,504.6 585.1,510.9 C590.4,517.3 595.8,526.7 601.1,535.0 C606.4,543.3 611.8,549.0 617.1,560.6 C622.5,572.2 627.8,589.7 633.2,604.4 C638.5,619.2 643.9,630.6 649.2,649.3 C654.6,667.9 660.9,698.6 665.3,716.2 C669.6,733.8 673.6,748.5 675.3,755.0" fill="none" stroke="#fd7812" stroke-width="3.2" stroke-linecap="butt"/>
<circle cx="280.3" cy="437.5" r="6.35" fill="url(#ballO)"/>
<circle cx="296.3" cy="438.0" r="6.35" fill="url(#ballO)"/>
<circle cx="312.4" cy="439.0" r="6.35" fill="url(#ballO)"/>
<circle cx="328.4" cy="440.0" r="6.35" fill="url(#ballO)"/>
<circle cx="344.5" cy="441.3" r="6.35" fill="url(#ballO)"/>
<circle cx="360.5" cy="442.4" r="6.35" fill="url(#ballO)"/>
<circle cx="376.5" cy="444.0" r="6.35" fill="url(#ballO)"/>
<circle cx="392.6" cy="445.5" r="6.35" fill="url(#ballO)"/>
<circle cx="408.6" cy="448.0" r="6.35" fill="url(#ballO)"/>
<circle cx="424.7" cy="449.5" r="6.35" fill="url(#ballO)"/>
<circle cx="440.7" cy="451.5" r="6.35" fill="url(#ballO)"/>
<circle cx="456.7" cy="454.0" r="6.35" fill="url(#ballO)"/>
<circle cx="472.8" cy="456.5" r="6.35" fill="url(#ballO)"/>
<circle cx="488.8" cy="460.2" r="6.35" fill="url(#ballO)"/>
<circle cx="504.9" cy="464.5" r="6.35" fill="url(#ballO)"/>
<circle cx="520.9" cy="469.2" r="6.35" fill="url(#ballO)"/>
<circle cx="536.9" cy="476.8" r="6.35" fill="url(#ballO)"/>
<circle cx="553.0" cy="483.9" r="6.35" fill="url(#ballO)"/>
<circle cx="569.0" cy="496.9" r="6.35" fill="url(#ballO)"/>
<circle cx="585.1" cy="510.9" r="6.35" fill="url(#ballO)"/>
<circle cx="601.1" cy="535.0" r="6.35" fill="url(#ballO)"/>
<circle cx="617.1" cy="560.6" r="6.35" fill="url(#ballO)"/>
<circle cx="633.2" cy="604.4" r="6.35" fill="url(#ballO)"/>
<circle cx="649.2" cy="649.3" r="6.35" fill="url(#ballO)"/>
<circle cx="665.3" cy="716.2" r="6.35" fill="url(#ballO)"/>
</g>
<path d="M558.5,425 H614" stroke="#fd7812" stroke-width="3.6"/><circle cx="586" cy="425" r="6.35" fill="url(#ballO)"/>
<path d="M558.5,454.5 H614" stroke="#2aa864" stroke-width="3.6"/><circle cx="586" cy="454.5" r="6.35" fill="url(#ballG)"/>
<text x="618" y="433.4" font-size="23.6" fill="#000" stroke="#000" stroke-width="0.4" textLength="92" lengthAdjust="spacingAndGlyphs">SW15-Al</text>
<text x="618" y="462.9" font-size="23.6" fill="#000" stroke="#000" stroke-width="0.4" textLength="48.6" lengthAdjust="spacingAndGlyphs">SW0</text>
<g stroke="#000" stroke-width="2.4" fill="none" stroke-linecap="square">
<path d="M280.3,399.5 V755 H722 V399.5 H280.3"/>
</g>
<g stroke="#000" stroke-width="2.6">
<line x1="280.3" y1="755" x2="280.3" y2="761.4"/>
<line x1="320.4" y1="755" x2="320.4" y2="758.4"/>
<line x1="360.5" y1="755" x2="360.5" y2="761.4"/>
<line x1="400.6" y1="755" x2="400.6" y2="758.4"/>
<line x1="440.7" y1="755" x2="440.7" y2="761.4"/>
<line x1="480.8" y1="755" x2="480.8" y2="758.4"/>
<line x1="520.9" y1="755" x2="520.9" y2="761.4"/>
<line x1="561.0" y1="755" x2="561.0" y2="758.4"/>
<line x1="601.1" y1="755" x2="601.1" y2="761.4"/>
<line x1="641.2" y1="755" x2="641.2" y2="758.4"/>
<line x1="681.3" y1="755" x2="681.3" y2="761.4"/>
<line x1="721.4" y1="755" x2="721.4" y2="758.4"/>
<line x1="280" y1="755.0" x2="273.2" y2="755.0"/>
<line x1="280" y1="728.0" x2="277" y2="728.0"/>
<line x1="280" y1="701.0" x2="273.2" y2="701.0"/>
<line x1="280" y1="674.0" x2="277" y2="674.0"/>
<line x1="280" y1="647.0" x2="273.2" y2="647.0"/>
<line x1="280" y1="620.0" x2="277" y2="620.0"/>
<line x1="280" y1="593.0" x2="273.2" y2="593.0"/>
<line x1="280" y1="566.0" x2="277" y2="566.0"/>
<line x1="280" y1="539.0" x2="273.2" y2="539.0"/>
<line x1="280" y1="512.0" x2="277" y2="512.0"/>
<line x1="280" y1="485.0" x2="273.2" y2="485.0"/>
<line x1="280" y1="458.0" x2="277" y2="458.0"/>
<line x1="280" y1="431.0" x2="273.2" y2="431.0"/>
<line x1="280" y1="404.0" x2="277" y2="404.0"/>
</g>
<text x="280.3" y="783" font-size="21.6" fill="#000" stroke="#000" stroke-width="0.35" text-anchor="middle">0.0</text>
<text x="360.5" y="783" font-size="21.6" fill="#000" stroke="#000" stroke-width="0.35" text-anchor="middle">0.1</text>
<text x="440.7" y="783" font-size="21.6" fill="#000" stroke="#000" stroke-width="0.35" text-anchor="middle">0.2</text>
<text x="520.9" y="783" font-size="21.6" fill="#000" stroke="#000" stroke-width="0.35" text-anchor="middle">0.3</text>
<text x="601.1" y="783" font-size="21.6" fill="#000" stroke="#000" stroke-width="0.35" text-anchor="middle">0.4</text>
<text x="681.3" y="783" font-size="21.6" fill="#000" stroke="#000" stroke-width="0.35" text-anchor="middle">0.5</text>
<text x="269.3" y="762.4" font-size="22.6" fill="#000" stroke="#000" stroke-width="0.35" text-anchor="end">0</text>
<text x="269.3" y="708.4" font-size="22.6" fill="#000" stroke="#000" stroke-width="0.35" text-anchor="end">5</text>
<text x="269.3" y="654.4" font-size="22.6" fill="#000" stroke="#000" stroke-width="0.35" text-anchor="end">10</text>
<text x="269.3" y="600.4" font-size="22.6" fill="#000" stroke="#000" stroke-width="0.35" text-anchor="end">15</text>
<text x="269.3" y="546.4" font-size="22.6" fill="#000" stroke="#000" stroke-width="0.35" text-anchor="end">20</text>
<text x="269.3" y="492.4" font-size="22.6" fill="#000" stroke="#000" stroke-width="0.35" text-anchor="end">25</text>
<text x="269.3" y="438.4" font-size="22.6" fill="#000" stroke="#000" stroke-width="0.35" text-anchor="end">30</text>
<text x="428.8" y="825.5" font-size="29.6" fill="#000" stroke="#000" stroke-width="0.6" textLength="146" lengthAdjust="spacingAndGlyphs">Voltage (V)</text>
<g transform="translate(235.5,748.3) rotate(-90)" font-size="31" fill="#000" stroke="#000" stroke-width="0.6"><text x="0" y="0" textLength="275.4" lengthAdjust="spacingAndGlyphs">Current Density (mA</text><text x="275.2" y="0" textLength="45.6" lengthAdjust="spacingAndGlyphs">/cm</text><text x="321.2" y="-13.2" font-size="19.5" stroke-width="0.4">2</text><text x="330.4" y="0">)</text></g>
</g>
</svg></body></html>
